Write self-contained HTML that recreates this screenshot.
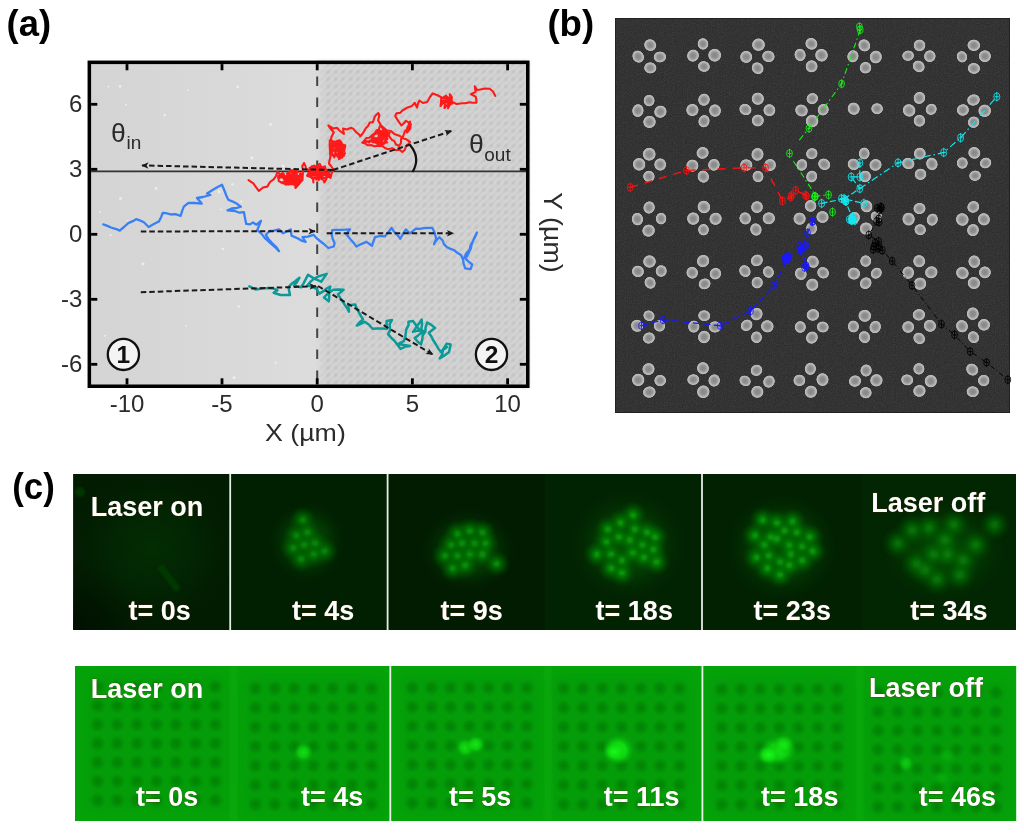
<!DOCTYPE html>
<html lang="en"><head><meta charset="utf-8"><title>Figure: particle trajectories and laser trapping</title>
<style>
html,body{margin:0;padding:0;background:#fff;}
body{width:1024px;height:833px;overflow:hidden;font-family:"Liberation Sans",Arial,sans-serif;}
svg{display:block;}
</style></head><body>
<svg width="1024" height="833" viewBox="0 0 1024 833">
<defs>
<pattern id="hatch" width="7.4" height="7.4" patternUnits="userSpaceOnUse" x="317.2" y="60.6">
<rect width="7.4" height="7.4" fill="#d0d0d0"/>
<path d="M-1,4.7 L4.7,-1 M2.7,8.4 L8.4,2.7" stroke="#dcdcdc" stroke-width="2.3" fill="none"/>
<path d="M-1,8.4 L8.4,-1 M-1,1 L1,-1 M6.4,8.4 L8.4,6.4" stroke="#c9c9c9" stroke-width="2.2" fill="none"/>
<circle cx="3.7" cy="3.7" r="2.1" fill="#bfbfbf"/>
</pattern>
<radialGradient id="hd"><stop offset="0" stop-color="#bcbcbc" stop-opacity="1"/><stop offset="0.55" stop-color="#c0c0c0" stop-opacity="0.8"/><stop offset="1" stop-color="#cccccc" stop-opacity="0"/></radialGradient>
<linearGradient id="leftg" x1="0" x2="1" y1="0" y2="0"><stop offset="0" stop-color="#d4d4d4"/><stop offset="0.52" stop-color="#dcdcdc"/><stop offset="1" stop-color="#dcdcdc"/></linearGradient>
<linearGradient id="fadeL" x1="0" x2="1" y1="0" y2="0"><stop offset="0" stop-color="#dcdcdc" stop-opacity="1"/><stop offset="1" stop-color="#d6d6d6" stop-opacity="0"/></linearGradient>
<pattern id="dotsA" width="4" height="4" patternUnits="userSpaceOnUse"><rect x="0" y="0" width="2" height="2" fill="#ffffff" opacity="0.10"/></pattern>
<radialGradient id="np" cx="50%" cy="50%" r="50%">
<stop offset="0" stop-color="#858585"/><stop offset="0.45" stop-color="#929292"/><stop offset="0.72" stop-color="#b4b4b4"/><stop offset="0.86" stop-color="#bcbcbc"/><stop offset="0.94" stop-color="#8a8a8a"/><stop offset="1" stop-color="#505050" stop-opacity="0"/>
</radialGradient>
<radialGradient id="gp" cx="50%" cy="50%" r="50%">
<stop offset="0" stop-color="#0aa80a" stop-opacity="0.9"/><stop offset="0.5" stop-color="#089808" stop-opacity="0.5"/><stop offset="1" stop-color="#067806" stop-opacity="0"/>
</radialGradient>
<radialGradient id="gbody" cx="50%" cy="50%" r="50%">
<stop offset="0" stop-color="#067c06" stop-opacity="0.85"/><stop offset="0.5" stop-color="#056c05" stop-opacity="0.6"/><stop offset="1" stop-color="#034003" stop-opacity="0"/>
</radialGradient>
<radialGradient id="gglow" cx="50%" cy="50%" r="50%">
<stop offset="0" stop-color="#056005" stop-opacity="0.9"/><stop offset="0.55" stop-color="#044a04" stop-opacity="0.6"/><stop offset="1" stop-color="#022a02" stop-opacity="0"/>
</radialGradient>
<radialGradient id="dk" cx="50%" cy="50%" r="50%">
<stop offset="0" stop-color="#016a04" stop-opacity="0.55"/><stop offset="0.5" stop-color="#027406" stop-opacity="0.36"/><stop offset="1" stop-color="#049a0a" stop-opacity="0"/>
</radialGradient>
<radialGradient id="bs" cx="50%" cy="50%" r="50%">
<stop offset="0" stop-color="#1cfa1c" stop-opacity="1"/><stop offset="0.5" stop-color="#10e410" stop-opacity="0.85"/><stop offset="1" stop-color="#08b00c" stop-opacity="0"/>
</radialGradient>
<radialGradient id="vig" cx="0" cy="1" r="1"><stop offset="0" stop-color="#000a00" stop-opacity="0.7"/><stop offset="1" stop-color="#000a00" stop-opacity="0"/></radialGradient>
<filter id="b07" x="-2%" y="-2%" width="104%" height="104%"><feGaussianBlur stdDeviation="1.0"/></filter>
<filter id="b1" x="-20%" y="-20%" width="140%" height="140%"><feGaussianBlur stdDeviation="0.6"/></filter>
<filter id="b3" x="-20%" y="-20%" width="140%" height="140%"><feGaussianBlur stdDeviation="4"/></filter>
<filter id="b15" x="-20%" y="-20%" width="140%" height="140%"><feGaussianBlur stdDeviation="1.1"/></filter>
<filter id="b2" x="-20%" y="-20%" width="140%" height="140%"><feGaussianBlur stdDeviation="1.2"/></filter>
<filter id="noise" x="0" y="0" width="100%" height="100%">
<feTurbulence type="fractalNoise" baseFrequency="0.9" numOctaves="2" seed="3" result="n"/>
<feColorMatrix type="matrix" values="0 0 0 0 0.5  0 0 0 0 0.5  0 0 0 0 0.5  0.6 0.6 0.6 0 -0.75"/>
</filter>
<marker id="ah" viewBox="0 0 10 10" refX="9" refY="5" markerWidth="8.6" markerHeight="7.2" markerUnits="userSpaceOnUse" orient="auto"><path d="M0,0.5 L10,5 L0,9.5 L2.5,5 z" fill="#1a1a1a"/></marker>
</defs>
<rect x="87.6" y="60.6" width="441.9" height="327.4" fill="url(#leftg)"/>
<rect x="317.2" y="60.6" width="212.3" height="327.4" fill="url(#hatch)" filter="url(#b07)"/>
<rect x="317.2" y="60.6" width="9" height="327.4" fill="url(#fadeL)"/>
<circle cx="164.6" cy="115.1" r="1.3" fill="#f2f2f2" opacity="0.8"/>
<circle cx="110.6" cy="235.2" r="1.1" fill="#f2f2f2" opacity="0.8"/>
<circle cx="107.5" cy="226.3" r="0.8" fill="#f2f2f2" opacity="0.8"/>
<circle cx="188.2" cy="89.8" r="0.9" fill="#f2f2f2" opacity="0.8"/>
<circle cx="186.3" cy="326.0" r="0.9" fill="#f2f2f2" opacity="0.8"/>
<circle cx="143.0" cy="263.8" r="1.6" fill="#f2f2f2" opacity="0.8"/>
<circle cx="219.1" cy="191.8" r="1.6" fill="#f2f2f2" opacity="0.8"/>
<circle cx="105.0" cy="335.8" r="1.0" fill="#f2f2f2" opacity="0.8"/>
<circle cx="126.0" cy="104.8" r="1.0" fill="#f2f2f2" opacity="0.8"/>
<circle cx="270.5" cy="124.4" r="1.3" fill="#f2f2f2" opacity="0.8"/>
<circle cx="232.4" cy="184.2" r="1.2" fill="#f2f2f2" opacity="0.8"/>
<circle cx="108.5" cy="86.6" r="1.0" fill="#f2f2f2" opacity="0.8"/>
<circle cx="241.3" cy="201.4" r="1.1" fill="#f2f2f2" opacity="0.8"/>
<circle cx="220.9" cy="209.4" r="1.0" fill="#f2f2f2" opacity="0.8"/>
<circle cx="265.8" cy="286.1" r="1.0" fill="#f2f2f2" opacity="0.8"/>
<circle cx="218.5" cy="231.9" r="1.5" fill="#f2f2f2" opacity="0.8"/>
<circle cx="251.8" cy="157.8" r="1.6" fill="#f2f2f2" opacity="0.8"/>
<circle cx="120.4" cy="198.5" r="1.4" fill="#f2f2f2" opacity="0.8"/>
<circle cx="127.7" cy="220.6" r="0.8" fill="#f2f2f2" opacity="0.8"/>
<circle cx="238.7" cy="306.5" r="1.3" fill="#f2f2f2" opacity="0.8"/>
<circle cx="283.2" cy="165.9" r="1.4" fill="#f2f2f2" opacity="0.8"/>
<circle cx="222.8" cy="248.9" r="1.2" fill="#f2f2f2" opacity="0.8"/>
<circle cx="275.6" cy="362.7" r="1.2" fill="#f2f2f2" opacity="0.8"/>
<circle cx="237.8" cy="86.9" r="1.4" fill="#f2f2f2" opacity="0.8"/>
<circle cx="234.1" cy="377.8" r="1.5" fill="#f2f2f2" opacity="0.8"/>
<circle cx="156.2" cy="188.4" r="1.3" fill="#f2f2f2" opacity="0.8"/>
<circle cx="99.9" cy="212.0" r="0.9" fill="#f2f2f2" opacity="0.8"/>
<circle cx="120.2" cy="86.4" r="1.4" fill="#f2f2f2" opacity="0.8"/>
<line x1="91.1" y1="171.4" x2="526.0" y2="171.4" stroke="#333" stroke-width="1.6"/>
<line x1="317.2" y1="76.4" x2="317.2" y2="384.5" stroke="#444" stroke-width="2.0" stroke-dasharray="9.6 11.4"/>
<polyline points="248.6,180.2 253.3,183.3 255.8,186.9 256.4,187.7 258.8,191.0 263.0,187.5 267.3,186.6 270.0,182.0 273.6,179.4 276.0,176.0 277.5,171.6 280.5,174.9 283.3,174.6 285.7,177.4 281.2,177.4 277.9,177.5 279.3,178.1 283.2,173.9 283.3,173.6 284.8,177.3 284.5,180.9 285.6,184.7 287.0,184.1 291.6,184.0 295.8,185.0 298.2,182.7 300.6,179.9 297.7,177.6 302.4,180.5 302.7,176.8 300.4,173.2 299.6,175.4 297.3,179.1 294.8,179.2 290.5,179.0 287.7,178.9 292.9,179.6 295.1,175.0 297.9,177.4 299.3,180.2 298.6,178.1 296.2,173.5 294.8,176.6 290.8,177.1 286.7,177.3 284.1,177.7 281.5,177.0 278.4,176.7 282.3,176.9 285.6,177.4 289.1,178.6 293.9,178.1 295.5,176.8 298.6,178.0 295.2,179.7 296.4,174.0 291.7,172.1 289.4,171.5 288.3,177.4 289.0,177.3 292.6,176.2 295.2,173.4 297.9,172.2 295.9,170.5 290.9,170.4 286.8,173.7 291.9,174.3 293.3,177.5 296.1,179.9 294.7,178.2 295.9,178.2 296.1,174.7 294.6,176.2 296.2,178.8 299.3,181.0 297.4,176.0 293.8,180.8 298.1,181.1 300.8,181.5 296.8,182.9 291.9,182.7 288.8,181.0 284.5,176.7 281.5,177.4 282.9,177.5 284.2,179.5 286.2,181.0 289.8,183.4 288.0,181.9 285.8,178.1 288.4,172.8 288.2,175.7 290.1,179.4 286.6,181.7 282.7,183.2 288.4,184.6 288.1,179.8 288.0,180.4 289.5,179.5 285.5,178.2 283.1,172.9 278.3,175.9 278.7,180.8 281.3,182.6 282.4,182.1 284.9,182.8 288.5,182.1 293.1,182.2 294.8,181.4 292.2,184.2 290.3,180.8 287.6,177.8 286.0,176.2 290.6,174.2 292.0,174.5 290.5,179.5 293.1,182.0 296.8,183.4 301.0,181.7 302.3,178.3 301.6,175.4 298.4,178.6 300.0,179.4 298.0,181.5 294.6,184.9 296.0,180.4 291.4,179.0 296.3,180.8 296.9,180.1 295.4,178.3 300.5,179.2 301.5,179.4 297.9,178.3 295.1,176.5 294.1,178.0 297.5,177.6 295.8,174.1 293.5,171.2 293.0,177.0 291.1,180.3 296.2,182.2 294.5,180.1 290.2,176.7 293.7,174.9 296.9,175.0 294.6,178.9 299.4,176.4 297.3,178.8 294.9,181.5 290.6,180.7 286.4,178.5 286.4,179.5 288.3,181.8 291.6,184.0 295.1,184.5 295.5,188.0 299.0,184.0 302.5,179.4 302.6,175.4 302.8,175.2 303.0,170.0 302.2,166.3 304.0,163.0 305.5,166.1 306.0,169.0 308.8,170.0 310.7,171.8 311.0,176.0 313.0,178.5 313.4,182.5 313.3,179.5 315.5,174.9 316.0,172.0 318.5,172.9 322.2,173.9 324.6,173.2 328.5,176.0 331.3,174.7 326.0,175.3 324.1,175.0 319.1,173.0 317.0,173.7 322.0,174.0 322.4,171.2 323.6,168.8 320.8,167.1 322.1,170.3 318.1,169.4 313.5,170.3 311.7,168.6 313.6,171.9 315.1,175.9 316.4,179.2 315.6,176.5 314.0,174.8 311.1,170.4 309.6,167.9 314.4,165.5 311.6,167.6 313.2,169.0 311.0,171.8 310.1,175.0 313.1,175.1 317.5,175.5 320.9,175.1 317.6,178.6 321.1,173.7 317.8,178.6 317.1,177.1 318.6,176.9 317.7,174.8 318.3,170.8 318.6,167.9 315.0,168.6 312.3,172.5 314.5,172.6 316.7,174.9 318.5,180.0 320.7,177.1 322.5,174.6 322.6,171.1 328.1,173.4 325.6,172.9 321.9,171.3 318.8,168.6 315.8,166.7 313.1,169.4 312.0,170.8 308.3,173.4 307.1,175.7 310.7,176.9 311.9,178.2 316.6,177.8 320.7,177.7 316.3,179.6 318.3,177.5 316.9,173.2 316.8,167.9 316.3,166.2 318.8,168.9 322.3,169.3 324.0,171.5 329.1,174.7 330.5,176.5 327.4,176.6 321.7,179.2 318.9,177.1 313.1,177.6 316.5,177.3 320.9,177.2 322.8,176.0 319.6,175.1 316.3,176.0 321.1,178.0 321.9,174.8 322.5,171.1 324.0,168.8 320.5,170.8 318.1,173.3 315.9,175.0 317.6,171.7 317.6,167.9 315.2,171.0 313.3,170.4 310.3,173.5 310.4,170.1 311.7,166.3 315.5,167.2 320.6,166.8 319.2,168.7 320.6,173.7 318.2,174.7 312.9,174.8 312.1,174.4 307.8,175.7 309.3,173.0 312.0,170.9 315.2,170.5 317.1,171.9 319.9,177.4 322.1,178.2 325.0,177.9 329.6,176.2 328.5,170.9 325.5,169.2 325.0,166.4 321.8,167.2 318.3,168.6 315.3,168.8 316.0,172.6 317.4,175.8 316.0,174.8 311.0,175.4 312.8,172.4 314.7,171.4 317.5,165.8 319.7,163.8 321.8,168.1 320.7,169.4 320.8,173.9 322.0,176.0 322.9,178.7 324.4,182.5 326.4,179.0 327.0,176.0 330.6,177.8 332.0,172.0 333.8,170.0 331.0,166.0 329.0,163.8 329.3,161.4 330.4,156.9 330.0,152.0 330.3,149.1 329.7,145.0 329.8,140.3 332.9,142.4 333.3,145.6 336.4,148.0 338.3,150.4 341.8,154.3 343.2,154.8 341.3,150.7 340.2,148.6 336.3,146.0 333.9,144.4 329.6,146.8 335.2,144.6 331.7,146.1 332.8,146.4 332.9,147.6 331.7,150.2 330.4,147.1 334.8,143.6 336.9,141.0 339.6,140.3 334.0,141.9 334.8,146.7 333.9,143.5 337.0,141.2 335.8,144.6 334.4,143.1 337.0,141.1 338.4,145.0 339.0,148.8 338.4,152.3 340.4,153.8 342.9,156.4 345.0,153.1 342.7,155.2 338.4,157.2 342.0,157.7 343.0,154.8 342.0,155.9 339.7,153.2 336.2,149.9 339.4,153.1 344.4,154.3 343.1,151.8 344.7,148.6 345.2,145.3 341.9,146.0 339.7,141.9 343.8,145.5 339.8,142.7 337.2,142.4 340.7,141.3 341.7,142.8 342.3,148.7 342.7,151.0 342.3,156.1 340.0,153.7 338.6,152.2 336.3,149.1 335.4,145.0 330.3,148.2 331.6,148.2 329.7,149.6 332.1,151.7 332.5,155.5 335.6,154.3 339.8,153.5 334.7,156.1 333.4,155.3 334.2,157.5 335.7,152.5 332.7,149.6 337.2,149.1 341.2,148.1 344.3,150.1 339.7,153.4 343.1,155.4 339.1,159.3 339.2,153.8 340.9,155.7 340.5,152.3 338.2,150.5 336.8,148.5 333.4,144.9 333.0,143.8 329.8,148.5 330.9,144.4 334.9,141.6 339.0,141.6 338.0,145.4 334.4,145.7 337.2,144.2 339.8,142.1 342.8,146.7 344.6,147.6 343.1,145.3 342.1,149.1 340.9,144.5 338.8,141.8 333.5,144.3 335.0,146.0 337.9,148.8 341.9,146.7 345.4,145.9 343.1,144.6 342.0,145.1 343.1,148.8 344.4,151.0 339.6,151.6 338.6,149.7 338.2,145.6 342.2,144.5 343.0,148.1 343.2,152.0 341.3,154.8 337.6,156.7 340.6,155.7 344.1,155.6 341.9,153.3 340.7,150.6 337.1,146.8 335.6,145.5 334.1,142.2 331.0,140.0 331.4,136.9 333.8,132.5 330.0,128.0 328.3,125.5 333.0,128.5 336.9,127.8 340.0,131.0 343.9,134.0 343.0,128.6 347.0,129.5 351.0,127.8 353.4,128.9 356.0,132.0 359.5,134.9 360.3,136.4 362.3,134.0 363.6,132.0 365.7,128.2 368.0,126.0 369.8,122.5 372.9,122.1 374.8,116.6 376.0,115.1 378.3,113.0 379.4,115.2 378.1,120.4 380.6,124.7 379.5,127.3 378.6,129.6 375.0,133.0 372.5,134.8 369.3,137.8 366.3,138.0 364.6,140.4 362.3,142.7 366.4,141.7 369.2,141.2 372.0,141.0 372.5,142.2 377.3,142.4 380.4,141.4 384.0,142.9 387.5,138.6 385.3,136.7 383.2,134.0 380.6,132.7 377.3,130.1 376.8,131.1 378.8,129.7 381.5,132.1 375.6,131.9 373.6,135.1 370.8,136.6 374.4,134.3 377.3,133.3 376.4,130.4 375.9,131.9 379.1,133.5 381.1,135.2 385.1,136.1 382.2,137.5 381.9,141.3 379.4,144.7 380.6,143.8 379.3,142.9 378.2,139.0 377.3,140.6 376.1,140.0 378.1,144.3 375.4,142.6 380.1,140.0 376.6,141.1 372.9,141.3 377.2,140.0 379.7,139.4 380.0,143.1 384.4,142.2 387.3,142.4 386.4,142.2 383.4,144.1 379.6,145.1 378.1,144.0 373.4,140.5 371.0,136.8 373.1,137.0 373.1,141.8 373.3,140.8 374.7,137.7 377.2,142.1 376.3,140.2 379.6,136.1 381.8,134.0 378.6,137.2 377.3,139.4 382.3,136.2 382.8,138.4 378.9,137.9 381.1,132.6 382.9,130.0 384.9,133.3 388.3,135.9 389.7,132.6 386.1,136.3 380.6,138.5 383.7,137.3 387.6,135.9 383.8,131.4 382.4,135.3 382.8,136.9 378.5,135.0 379.2,133.7 382.1,131.5 385.6,130.3 388.0,133.6 384.3,135.3 381.3,136.3 378.0,137.4 375.8,139.0 371.6,136.4 375.6,140.1 376.6,143.2 378.6,141.2 383.0,139.4 386.3,139.5 386.6,139.0 384.6,136.9 381.0,134.8 378.3,132.7 382.9,133.7 382.0,139.1 378.5,139.3 376.0,141.4 376.0,141.1 370.1,140.2 369.4,142.5 365.6,140.9 362.3,142.7 365.3,143.5 367.8,145.3 371.1,145.0 374.4,146.4 377.5,145.8 382.6,146.2 385.0,148.0 388.0,149.2 392.2,148.2 395.8,150.2 399.7,149.8 402.2,152.0 404.8,149.8 405.8,146.6 408.4,143.9 410.0,141.9 406.4,139.3 403.4,138.5 400.0,136.0 395.7,134.4 394.2,133.9 391.0,131.0 386.9,130.5 384.0,128.0 380.3,124.7 381.9,127.6 384.4,130.0 385.9,131.6 389.3,136.1 390.0,137.3 392.0,140.0 394.2,140.9 395.8,144.3 399.0,146.0 401.1,142.8 401.0,139.0 402.6,137.4 404.5,132.7 404.9,131.0 407.5,129.1 409.8,124.8 410.0,121.6 408.5,125.4 407.1,128.3 407.0,132.5 409.1,130.1 410.3,128.1 410.8,124.0 406.0,120.8 403.4,123.8 401.4,125.5 399.4,122.6 397.4,119.6 395.2,116.0 396.5,113.2 400.2,112.9 402.2,110.7 405.0,109.0 407.1,107.7 411.8,106.1 414.7,102.8 417.0,107.5 417.9,103.9 419.4,100.5 423.0,103.0 427.2,102.0 430.0,97.0 432.7,93.4 437.0,95.0 441.3,97.3 441.0,102.7 440.5,106.0 442.4,103.6 443.4,100.7 446.5,102.2 447.7,99.9 451.6,99.0 449.0,98.3 449.8,99.8 450.4,97.6 448.7,102.3 449.7,101.2 445.9,97.9 443.8,97.9 442.4,98.1 446.0,95.6 447.5,98.2 447.9,97.2 447.1,101.5 444.1,102.1 446.3,102.1 444.4,103.3 442.6,101.2 443.9,100.3 446.1,101.2 446.5,96.3 446.8,99.5 448.4,103.1 451.1,103.4 446.6,105.5 444.4,108.0 445.0,104.7 444.7,106.2 448.1,105.8 448.4,107.0 447.6,105.2 448.1,101.6 451.8,101.2 451.9,103.7 450.5,103.7 448.0,108.2 449.4,103.3 451.0,99.3 450.5,98.4 450.6,98.7 449.8,94.2 451.8,97.1 451.7,101.5 453.8,102.8 456.7,104.0 462.2,103.3 465.0,103.2 469.9,102.2 472.2,102.7 476.4,102.8 476.3,99.6 475.6,96.6 471.0,94.2 475.6,91.9 474.8,86.4 477.0,90.0 480.3,89.5 485.0,88.5 489.7,88.8 493.0,91.5 495.2,95.8" fill="none" stroke="#ff1a1a" stroke-width="2.1" stroke-linejoin="round" stroke-linecap="round" />
<polyline points="103.3,224.4 107.4,225.9 111.0,227.5 117.0,229.3 119.7,230.6 124.0,227.0 128.3,223.1 132.3,221.4 136.1,219.2 139.8,220.4 143.9,222.3 148.6,227.0 153.9,224.1 158.8,221.6 161.1,217.2 162.7,213.0 166.0,213.1 171.0,214.5 175.4,214.2 180.6,215.8 182.1,211.1 183.8,206.7 188.4,202.8 195.0,203.0 201.7,203.6 197.0,198.0 203.0,197.0 210.3,195.0 207.0,193.5 213.4,189.5 218.1,186.7 222.0,184.8 225.0,192.0 226.5,196.1 228.3,199.7 232.8,201.6 237.4,204.1 240.8,206.7 236.9,207.8 231.7,208.5 227.5,210.3 235.0,211.0 239.4,212.7 243.9,212.2 245.0,218.0 246.2,223.9 250.0,224.4 253.0,222.5 256.4,224.7 261.0,220.8 258.8,226.2 257.2,230.2 261.4,233.6 264.9,238.1 268.0,241.0 271.5,244.2 275.9,248.0 279.0,251.2 276.5,247.3 272.0,243.0 268.4,238.9 265.8,234.8 269.7,231.0 273.8,230.6 279.0,229.4 283.0,233.3 287.2,231.2 290.8,229.4 291.5,235.6 298.0,238.5 301.4,240.6 305.6,241.9 302.5,237.2 307.8,236.6 313.4,234.8 316.2,237.8 320.0,241.0 323.9,244.0 328.3,248.0 333.8,246.5 334.6,243.2 332.7,238.7 331.7,234.9 332.2,230.2 337.1,229.8 341.0,229.8 345.3,229.7 350.0,229.4 346.2,234.0 351.0,240.0 353.9,243.1 356.4,246.6 361.1,244.1 366.5,241.9 372.0,245.8 373.3,241.9 375.0,237.2 380.0,236.0 384.7,236.4 388.2,232.2 391.7,227.8 393.8,231.3 397.3,234.9 400.3,238.8 403.0,233.9 405.8,229.4 409.7,233.3 416.0,228.6 419.3,228.8 424.0,228.2 428.6,227.8 432.3,227.8 434.6,232.8 436.2,238.8 434.0,244.2 436.1,240.6 439.4,237.2 442.7,240.5 443.9,244.1 447.2,247.3 450.5,248.9 454.4,250.4 456.9,252.5 461.2,255.2 463.1,259.7 463.6,263.7 465.2,268.4 470.6,269.2 472.2,264.5 468.6,261.6 464.4,257.5 466.2,253.5 469.7,249.5 470.5,245.2 472.8,241.2 475.0,236.5 476.9,232.5 475.2,236.7 473.2,240.6 471.4,245.2 470.9,248.2 468.8,252.8 466.7,256.7" fill="none" stroke="#3a80f5" stroke-width="2.3" stroke-linejoin="round" stroke-linecap="round" />
<polyline points="249.4,286.4 255.6,289.5 262.0,288.5 268.0,288.0 273.8,288.6 277.5,290.3 273.6,292.7 280.6,295.0 285.5,294.9 290.0,295.0 288.4,287.2 291.6,283.8 295.5,280.9 299.4,277.8 296.9,282.2 294.0,285.6 301.0,287.2 303.4,283.6 305.9,278.9 308.0,274.7 314.2,278.6 318.2,276.5 321.7,275.4 326.7,273.9 323.9,277.9 321.2,281.7 314.2,278.6 310.8,281.4 307.2,285.6 311.5,286.6 316.5,288.8 319.4,293.6 323.5,291.2 326.7,288.5 330.3,286.6 329.1,291.2 329.2,296.7 328.8,301.4 324.0,297.5 326.3,295.0 329.8,292.0 333.4,289.7 338.3,289.5 343.6,289.7 338.0,294.4 340.4,298.2 342.5,301.0 344.8,304.9 347.2,308.3 349.0,311.6 348.3,305.3 355.3,304.5 356.4,307.8 358.9,312.4 361.0,316.1 363.0,319.4 360.1,321.9 356.9,325.6 360.8,323.9 364.7,321.7 368.8,324.5 372.5,328.8 377.4,328.4 380.8,328.4 386.6,328.8 386.6,321.0 392.0,320.0 389.7,324.1 390.0,330.6 388.0,334.2 391.6,338.1 395.2,341.7 396.9,344.1 400.6,349.0 405.7,346.4 410.0,346.0 404.4,345.1 401.7,344.5 397.5,344.4 403.8,341.2 405.2,337.3 405.7,333.6 406.2,329.6 408.6,325.1 408.4,321.7 413.0,321.0 416.2,325.4 419.0,329.2 422.5,333.4 421.4,328.5 422.0,324.6 421.7,319.4 419.2,323.3 415.3,328.6 413.0,331.9 417.6,330.6 421.2,330.8 425.6,331.0 421.6,332.5 418.1,335.4 414.7,338.0 417.7,341.7 421.0,344.4 422.3,339.4 422.6,335.4 425.3,331.7 425.6,327.4 427.2,322.5 431.3,324.9 435.0,328.0 428.8,332.7 431.4,336.5 433.2,340.3 436.3,345.0 438.2,348.4 441.2,352.2 444.0,347.9 446.7,343.6 450.6,344.4 449.0,352.2 443.7,355.9 439.7,358.4 442.0,355.0 443.0,350.0 447.0,347.0" fill="none" stroke="#0b9a98" stroke-width="2.5" stroke-linejoin="round" stroke-linecap="round" />
<line x1="333" y1="170" x2="142" y2="165.4" stroke="#1a1a1a" stroke-width="2.0" stroke-dasharray="5.5 3" marker-end="url(#ah)"/>
<line x1="333" y1="170" x2="451.4" y2="131" stroke="#1a1a1a" stroke-width="2.0" stroke-dasharray="5.5 3" marker-end="url(#ah)"/>
<line x1="140.8" y1="231.4" x2="315" y2="231.3" stroke="#1a1a1a" stroke-width="2.0" stroke-dasharray="5.5 3" marker-end="url(#ah)"/>
<line x1="326.7" y1="233.3" x2="453.4" y2="233.3" stroke="#1a1a1a" stroke-width="2.0" stroke-dasharray="5.5 3" marker-end="url(#ah)"/>
<line x1="140.8" y1="292.2" x2="316" y2="286.3" stroke="#1a1a1a" stroke-width="2.0" stroke-dasharray="5.5 3" marker-end="url(#ah)"/>
<line x1="318" y1="286" x2="432.7" y2="354.5" stroke="#1a1a1a" stroke-width="2.0" stroke-dasharray="5.5 3" marker-end="url(#ah)"/>
<path d="M410,145 Q421,158 412.5,172" fill="none" stroke="#111" stroke-width="2.2"/>
<rect x="89.35" y="62.35" width="438.4" height="323.9" fill="none" stroke="#000" stroke-width="3.5"/>
<line x1="127" y1="64.1" x2="127" y2="70.3" stroke="#000" stroke-width="2.8"/>
<line x1="127" y1="384.5" x2="127" y2="378.3" stroke="#000" stroke-width="2.8"/>
<line x1="222" y1="64.1" x2="222" y2="70.3" stroke="#000" stroke-width="2.8"/>
<line x1="222" y1="384.5" x2="222" y2="378.3" stroke="#000" stroke-width="2.8"/>
<line x1="317.2" y1="64.1" x2="317.2" y2="70.3" stroke="#000" stroke-width="2.8"/>
<line x1="317.2" y1="384.5" x2="317.2" y2="378.3" stroke="#000" stroke-width="2.8"/>
<line x1="412.4" y1="64.1" x2="412.4" y2="70.3" stroke="#000" stroke-width="2.8"/>
<line x1="412.4" y1="384.5" x2="412.4" y2="378.3" stroke="#000" stroke-width="2.8"/>
<line x1="507.6" y1="64.1" x2="507.6" y2="70.3" stroke="#000" stroke-width="2.8"/>
<line x1="507.6" y1="384.5" x2="507.6" y2="378.3" stroke="#000" stroke-width="2.8"/>
<line x1="91.1" y1="104.3" x2="97.3" y2="104.3" stroke="#000" stroke-width="2.8"/>
<line x1="526.0" y1="104.3" x2="519.8" y2="104.3" stroke="#000" stroke-width="2.8"/>
<line x1="91.1" y1="169.3" x2="97.3" y2="169.3" stroke="#000" stroke-width="2.8"/>
<line x1="526.0" y1="169.3" x2="519.8" y2="169.3" stroke="#000" stroke-width="2.8"/>
<line x1="91.1" y1="234.3" x2="97.3" y2="234.3" stroke="#000" stroke-width="2.8"/>
<line x1="526.0" y1="234.3" x2="519.8" y2="234.3" stroke="#000" stroke-width="2.8"/>
<line x1="91.1" y1="299.3" x2="97.3" y2="299.3" stroke="#000" stroke-width="2.8"/>
<line x1="526.0" y1="299.3" x2="519.8" y2="299.3" stroke="#000" stroke-width="2.8"/>
<line x1="91.1" y1="364.3" x2="97.3" y2="364.3" stroke="#000" stroke-width="2.8"/>
<line x1="526.0" y1="364.3" x2="519.8" y2="364.3" stroke="#000" stroke-width="2.8"/>
<text x="82.3" y="112.3" font-family="'Liberation Sans', Arial, sans-serif" font-size="24" fill="#2b2b2b" text-anchor="end">6</text>
<text x="82.3" y="177.3" font-family="'Liberation Sans', Arial, sans-serif" font-size="24" fill="#2b2b2b" text-anchor="end">3</text>
<text x="82.3" y="242.3" font-family="'Liberation Sans', Arial, sans-serif" font-size="24" fill="#2b2b2b" text-anchor="end">0</text>
<text x="82.3" y="307.3" font-family="'Liberation Sans', Arial, sans-serif" font-size="24" fill="#2b2b2b" text-anchor="end">-3</text>
<text x="82.3" y="372.3" font-family="'Liberation Sans', Arial, sans-serif" font-size="24" fill="#2b2b2b" text-anchor="end">-6</text>
<text x="127" y="412.3" font-family="'Liberation Sans', Arial, sans-serif" font-size="24" fill="#2b2b2b" text-anchor="middle">-10</text>
<text x="222" y="412.3" font-family="'Liberation Sans', Arial, sans-serif" font-size="24" fill="#2b2b2b" text-anchor="middle">-5</text>
<text x="317.2" y="412.3" font-family="'Liberation Sans', Arial, sans-serif" font-size="24" fill="#2b2b2b" text-anchor="middle">0</text>
<text x="412.4" y="412.3" font-family="'Liberation Sans', Arial, sans-serif" font-size="24" fill="#2b2b2b" text-anchor="middle">5</text>
<text x="507.6" y="412.3" font-family="'Liberation Sans', Arial, sans-serif" font-size="24" fill="#2b2b2b" text-anchor="middle">10</text>
<text x="265.0" y="441" font-family="'Liberation Sans', Arial, sans-serif" font-size="24.5" fill="#2b2b2b" textLength="80.8" lengthAdjust="spacingAndGlyphs">X (µm)</text>
<text transform="translate(544,192.2) rotate(90)" font-family="'Liberation Sans', Arial, sans-serif" font-size="25" fill="#2b2b2b" textLength="80.5" lengthAdjust="spacingAndGlyphs">Y (µm)</text>
<text x="111" y="142.2" font-family="'Liberation Sans', Arial, sans-serif" font-size="26.5" fill="#2b2b2b">θ<tspan font-size="19" dy="6.8" dx="0.8">in</tspan></text>
<text x="469" y="153.4" font-family="'Liberation Sans', Arial, sans-serif" font-size="26.5" fill="#2b2b2b">θ<tspan font-size="19" dy="7.2" dx="0.5">out</tspan></text>
<circle cx="123.4" cy="354.4" r="15.6" fill="#f4f4f4" stroke="#111" stroke-width="2.3"/>
<text x="123.4" y="363.2" font-family="'Liberation Sans', Arial, sans-serif" font-size="24.5" font-weight="bold" fill="#111" text-anchor="middle">1</text>
<circle cx="491.5" cy="354.4" r="15.6" fill="#f4f4f4" stroke="#111" stroke-width="2.3"/>
<text x="491.5" y="363.2" font-family="'Liberation Sans', Arial, sans-serif" font-size="24.5" font-weight="bold" fill="#111" text-anchor="middle">2</text>
<text x="6.6" y="35.9" font-family="'Liberation Sans', Arial, sans-serif" font-size="37.5" font-weight="bold" fill="#000" textLength="44.5" lengthAdjust="spacingAndGlyphs">(a)</text>
<text x="547.4" y="36" font-family="'Liberation Sans', Arial, sans-serif" font-size="37.5" font-weight="bold" fill="#000" textLength="46.7" lengthAdjust="spacingAndGlyphs">(b)</text>
<text x="12.3" y="499.1" font-family="'Liberation Sans', Arial, sans-serif" font-size="37.5" font-weight="bold" fill="#000" textLength="42.5" lengthAdjust="spacingAndGlyphs">(c)</text>
<rect x="615" y="18" width="395" height="395" fill="#2f2f2f"/>
<rect x="615" y="18" width="395" height="395" filter="url(#noise)" opacity="0.22"/>
<rect x="615.5" y="18.5" width="394" height="394" fill="none" stroke="#222" stroke-width="1"/>
<g filter="url(#b1)">
<ellipse cx="650.2" cy="45.1" rx="6.5" ry="6.1" transform="rotate(33 650.2 45.1)" fill="url(#np)"/>
<ellipse cx="638.2" cy="56.6" rx="6.7" ry="5.9" transform="rotate(55 638.2 56.6)" fill="url(#np)"/>
<ellipse cx="659.9" cy="57.0" rx="6.6" ry="5.8" transform="rotate(177 659.9 57.0)" fill="url(#np)"/>
<ellipse cx="650.3" cy="67.9" rx="6.5" ry="5.9" transform="rotate(3 650.3 67.9)" fill="url(#np)"/>
<ellipse cx="703.0" cy="43.9" rx="6.1" ry="5.7" transform="rotate(79 703.0 43.9)" fill="url(#np)"/>
<ellipse cx="693.0" cy="55.6" rx="6.5" ry="6.2" transform="rotate(119 693.0 55.6)" fill="url(#np)"/>
<ellipse cx="714.7" cy="55.2" rx="6.8" ry="6.8" transform="rotate(151 714.7 55.2)" fill="url(#np)"/>
<ellipse cx="703.9" cy="66.5" rx="6.3" ry="5.7" transform="rotate(13 703.9 66.5)" fill="url(#np)"/>
<ellipse cx="758.5" cy="44.7" rx="6.8" ry="6.6" transform="rotate(0 758.5 44.7)" fill="url(#np)"/>
<ellipse cx="746.2" cy="56.9" rx="6.4" ry="6.4" transform="rotate(72 746.2 56.9)" fill="url(#np)"/>
<ellipse cx="768.4" cy="56.4" rx="6.6" ry="6.1" transform="rotate(16 768.4 56.4)" fill="url(#np)"/>
<ellipse cx="757.6" cy="68.2" rx="6.6" ry="5.9" transform="rotate(44 757.6 68.2)" fill="url(#np)"/>
<ellipse cx="811.4" cy="43.8" rx="6.5" ry="6.1" transform="rotate(34 811.4 43.8)" fill="url(#np)"/>
<ellipse cx="800.1" cy="54.9" rx="6.6" ry="5.9" transform="rotate(76 800.1 54.9)" fill="url(#np)"/>
<ellipse cx="821.5" cy="55.2" rx="6.8" ry="6.6" transform="rotate(55 821.5 55.2)" fill="url(#np)"/>
<ellipse cx="811.6" cy="66.3" rx="6.4" ry="6.3" transform="rotate(116 811.6 66.3)" fill="url(#np)"/>
<ellipse cx="864.3" cy="45.4" rx="6.6" ry="6.1" transform="rotate(53 864.3 45.4)" fill="url(#np)"/>
<ellipse cx="852.9" cy="56.3" rx="6.5" ry="5.9" transform="rotate(108 852.9 56.3)" fill="url(#np)"/>
<ellipse cx="875.8" cy="57.0" rx="6.8" ry="6.4" transform="rotate(103 875.8 57.0)" fill="url(#np)"/>
<ellipse cx="865.5" cy="67.7" rx="6.2" ry="6.1" transform="rotate(147 865.5 67.7)" fill="url(#np)"/>
<ellipse cx="919.5" cy="45.4" rx="6.2" ry="6.2" transform="rotate(159 919.5 45.4)" fill="url(#np)"/>
<ellipse cx="908.1" cy="55.7" rx="6.2" ry="5.5" transform="rotate(173 908.1 55.7)" fill="url(#np)"/>
<ellipse cx="929.8" cy="56.2" rx="6.3" ry="6.1" transform="rotate(107 929.8 56.2)" fill="url(#np)"/>
<ellipse cx="918.7" cy="66.4" rx="6.6" ry="5.9" transform="rotate(41 918.7 66.4)" fill="url(#np)"/>
<ellipse cx="973.8" cy="45.3" rx="6.7" ry="6.1" transform="rotate(3 973.8 45.3)" fill="url(#np)"/>
<ellipse cx="962.0" cy="56.8" rx="6.1" ry="5.5" transform="rotate(66 962.0 56.8)" fill="url(#np)"/>
<ellipse cx="984.9" cy="56.2" rx="6.4" ry="6.3" transform="rotate(176 984.9 56.2)" fill="url(#np)"/>
<ellipse cx="973.9" cy="68.4" rx="6.5" ry="5.8" transform="rotate(6 973.9 68.4)" fill="url(#np)"/>
<ellipse cx="649.1" cy="100.6" rx="6.1" ry="5.8" transform="rotate(87 649.1 100.6)" fill="url(#np)"/>
<ellipse cx="637.9" cy="110.6" rx="6.8" ry="6.0" transform="rotate(98 637.9 110.6)" fill="url(#np)"/>
<ellipse cx="660.4" cy="111.7" rx="6.6" ry="6.4" transform="rotate(143 660.4 111.7)" fill="url(#np)"/>
<ellipse cx="649.5" cy="121.9" rx="6.6" ry="6.5" transform="rotate(157 649.5 121.9)" fill="url(#np)"/>
<ellipse cx="704.0" cy="99.7" rx="6.5" ry="6.1" transform="rotate(105 704.0 99.7)" fill="url(#np)"/>
<ellipse cx="692.4" cy="110.0" rx="6.5" ry="6.5" transform="rotate(158 692.4 110.0)" fill="url(#np)"/>
<ellipse cx="715.0" cy="110.6" rx="6.6" ry="6.3" transform="rotate(79 715.0 110.6)" fill="url(#np)"/>
<ellipse cx="704.0" cy="121.2" rx="6.6" ry="5.9" transform="rotate(108 704.0 121.2)" fill="url(#np)"/>
<ellipse cx="757.8" cy="98.7" rx="6.5" ry="6.5" transform="rotate(46 757.8 98.7)" fill="url(#np)"/>
<ellipse cx="745.4" cy="109.5" rx="6.6" ry="5.9" transform="rotate(31 745.4 109.5)" fill="url(#np)"/>
<ellipse cx="769.4" cy="110.2" rx="6.4" ry="6.3" transform="rotate(59 769.4 110.2)" fill="url(#np)"/>
<ellipse cx="757.8" cy="120.5" rx="6.4" ry="6.3" transform="rotate(165 757.8 120.5)" fill="url(#np)"/>
<ellipse cx="812.3" cy="98.6" rx="6.2" ry="5.8" transform="rotate(151 812.3 98.6)" fill="url(#np)"/>
<ellipse cx="801.5" cy="110.5" rx="6.8" ry="6.2" transform="rotate(30 801.5 110.5)" fill="url(#np)"/>
<ellipse cx="823.2" cy="109.7" rx="6.2" ry="5.8" transform="rotate(113 823.2 109.7)" fill="url(#np)"/>
<ellipse cx="812.1" cy="121.0" rx="6.7" ry="6.7" transform="rotate(81 812.1 121.0)" fill="url(#np)"/>
<ellipse cx="853.7" cy="108.7" rx="6.6" ry="6.3" transform="rotate(56 853.7 108.7)" fill="url(#np)"/>
<ellipse cx="877.1" cy="108.7" rx="6.2" ry="5.8" transform="rotate(4 877.1 108.7)" fill="url(#np)"/>
<ellipse cx="919.4" cy="97.9" rx="6.5" ry="6.1" transform="rotate(113 919.4 97.9)" fill="url(#np)"/>
<ellipse cx="909.1" cy="110.4" rx="6.8" ry="6.5" transform="rotate(36 909.1 110.4)" fill="url(#np)"/>
<ellipse cx="931.2" cy="109.3" rx="6.1" ry="5.7" transform="rotate(129 931.2 109.3)" fill="url(#np)"/>
<ellipse cx="919.4" cy="120.7" rx="6.3" ry="6.1" transform="rotate(94 919.4 120.7)" fill="url(#np)"/>
<ellipse cx="973.5" cy="100.0" rx="6.7" ry="6.0" transform="rotate(168 973.5 100.0)" fill="url(#np)"/>
<ellipse cx="962.9" cy="110.0" rx="6.4" ry="6.1" transform="rotate(164 962.9 110.0)" fill="url(#np)"/>
<ellipse cx="984.7" cy="110.8" rx="6.7" ry="6.6" transform="rotate(170 984.7 110.8)" fill="url(#np)"/>
<ellipse cx="973.6" cy="122.2" rx="6.2" ry="6.0" transform="rotate(147 973.6 122.2)" fill="url(#np)"/>
<ellipse cx="649.2" cy="154.2" rx="6.8" ry="6.8" transform="rotate(97 649.2 154.2)" fill="url(#np)"/>
<ellipse cx="639.1" cy="164.3" rx="6.7" ry="6.6" transform="rotate(63 639.1 164.3)" fill="url(#np)"/>
<ellipse cx="660.2" cy="164.5" rx="6.5" ry="6.3" transform="rotate(88 660.2 164.5)" fill="url(#np)"/>
<ellipse cx="648.9" cy="176.4" rx="6.1" ry="6.0" transform="rotate(31 648.9 176.4)" fill="url(#np)"/>
<ellipse cx="702.6" cy="152.9" rx="6.5" ry="6.2" transform="rotate(151 702.6 152.9)" fill="url(#np)"/>
<ellipse cx="692.4" cy="165.6" rx="6.4" ry="6.4" transform="rotate(15 692.4 165.6)" fill="url(#np)"/>
<ellipse cx="713.9" cy="164.8" rx="6.3" ry="6.1" transform="rotate(115 713.9 164.8)" fill="url(#np)"/>
<ellipse cx="703.3" cy="176.6" rx="6.5" ry="6.0" transform="rotate(69 703.3 176.6)" fill="url(#np)"/>
<ellipse cx="757.5" cy="154.4" rx="6.8" ry="6.4" transform="rotate(103 757.5 154.4)" fill="url(#np)"/>
<ellipse cx="746.3" cy="165.0" rx="6.5" ry="6.1" transform="rotate(5 746.3 165.0)" fill="url(#np)"/>
<ellipse cx="770.1" cy="165.0" rx="6.4" ry="6.2" transform="rotate(101 770.1 165.0)" fill="url(#np)"/>
<ellipse cx="758.0" cy="176.5" rx="6.1" ry="5.8" transform="rotate(74 758.0 176.5)" fill="url(#np)"/>
<ellipse cx="811.8" cy="153.7" rx="6.2" ry="5.8" transform="rotate(147 811.8 153.7)" fill="url(#np)"/>
<ellipse cx="801.8" cy="164.9" rx="6.3" ry="5.7" transform="rotate(111 801.8 164.9)" fill="url(#np)"/>
<ellipse cx="824.2" cy="164.3" rx="6.6" ry="5.9" transform="rotate(35 824.2 164.3)" fill="url(#np)"/>
<ellipse cx="811.7" cy="176.5" rx="6.3" ry="5.8" transform="rotate(112 811.7 176.5)" fill="url(#np)"/>
<ellipse cx="864.2" cy="153.5" rx="6.3" ry="5.7" transform="rotate(95 864.2 153.5)" fill="url(#np)"/>
<ellipse cx="853.6" cy="164.4" rx="6.4" ry="6.0" transform="rotate(29 853.6 164.4)" fill="url(#np)"/>
<ellipse cx="875.5" cy="164.9" rx="6.5" ry="6.2" transform="rotate(153 875.5 164.9)" fill="url(#np)"/>
<ellipse cx="865.1" cy="176.5" rx="6.3" ry="6.1" transform="rotate(146 865.1 176.5)" fill="url(#np)"/>
<ellipse cx="919.8" cy="153.6" rx="6.3" ry="6.3" transform="rotate(160 919.8 153.6)" fill="url(#np)"/>
<ellipse cx="908.3" cy="163.5" rx="6.6" ry="6.0" transform="rotate(17 908.3 163.5)" fill="url(#np)"/>
<ellipse cx="931.9" cy="163.9" rx="6.7" ry="6.0" transform="rotate(73 931.9 163.9)" fill="url(#np)"/>
<ellipse cx="920.5" cy="174.3" rx="6.2" ry="6.0" transform="rotate(164 920.5 174.3)" fill="url(#np)"/>
<ellipse cx="974.3" cy="152.9" rx="6.5" ry="6.2" transform="rotate(34 974.3 152.9)" fill="url(#np)"/>
<ellipse cx="962.3" cy="163.0" rx="6.1" ry="5.8" transform="rotate(93 962.3 163.0)" fill="url(#np)"/>
<ellipse cx="985.6" cy="163.0" rx="6.2" ry="5.6" transform="rotate(151 985.6 163.0)" fill="url(#np)"/>
<ellipse cx="975.1" cy="175.7" rx="6.2" ry="5.5" transform="rotate(171 975.1 175.7)" fill="url(#np)"/>
<ellipse cx="649.1" cy="207.5" rx="6.5" ry="6.0" transform="rotate(108 649.1 207.5)" fill="url(#np)"/>
<ellipse cx="637.4" cy="219.1" rx="6.7" ry="6.0" transform="rotate(82 637.4 219.1)" fill="url(#np)"/>
<ellipse cx="661.1" cy="218.6" rx="6.2" ry="5.6" transform="rotate(92 661.1 218.6)" fill="url(#np)"/>
<ellipse cx="648.6" cy="230.6" rx="6.7" ry="6.4" transform="rotate(155 648.6 230.6)" fill="url(#np)"/>
<ellipse cx="703.9" cy="207.0" rx="6.8" ry="6.6" transform="rotate(46 703.9 207.0)" fill="url(#np)"/>
<ellipse cx="693.2" cy="218.6" rx="6.6" ry="6.5" transform="rotate(73 693.2 218.6)" fill="url(#np)"/>
<ellipse cx="715.6" cy="218.8" rx="6.6" ry="6.4" transform="rotate(138 715.6 218.8)" fill="url(#np)"/>
<ellipse cx="703.5" cy="229.7" rx="6.1" ry="5.7" transform="rotate(84 703.5 229.7)" fill="url(#np)"/>
<ellipse cx="757.0" cy="207.1" rx="6.3" ry="6.2" transform="rotate(120 757.0 207.1)" fill="url(#np)"/>
<ellipse cx="745.2" cy="218.4" rx="6.5" ry="6.1" transform="rotate(70 745.2 218.4)" fill="url(#np)"/>
<ellipse cx="768.8" cy="218.3" rx="6.6" ry="6.4" transform="rotate(176 768.8 218.3)" fill="url(#np)"/>
<ellipse cx="755.9" cy="229.5" rx="6.6" ry="6.0" transform="rotate(72 755.9 229.5)" fill="url(#np)"/>
<ellipse cx="810.6" cy="205.9" rx="6.3" ry="6.2" transform="rotate(99 810.6 205.9)" fill="url(#np)"/>
<ellipse cx="799.6" cy="218.7" rx="6.5" ry="6.5" transform="rotate(115 799.6 218.7)" fill="url(#np)"/>
<ellipse cx="822.5" cy="217.0" rx="6.5" ry="6.3" transform="rotate(8 822.5 217.0)" fill="url(#np)"/>
<ellipse cx="811.6" cy="228.4" rx="6.4" ry="5.8" transform="rotate(89 811.6 228.4)" fill="url(#np)"/>
<ellipse cx="866.5" cy="206.3" rx="6.5" ry="6.2" transform="rotate(66 866.5 206.3)" fill="url(#np)"/>
<ellipse cx="854.1" cy="217.9" rx="6.5" ry="5.9" transform="rotate(129 854.1 217.9)" fill="url(#np)"/>
<ellipse cx="876.5" cy="216.7" rx="6.3" ry="5.6" transform="rotate(28 876.5 216.7)" fill="url(#np)"/>
<ellipse cx="866.1" cy="228.6" rx="6.7" ry="6.5" transform="rotate(9 866.1 228.6)" fill="url(#np)"/>
<ellipse cx="919.5" cy="208.5" rx="6.4" ry="6.0" transform="rotate(175 919.5 208.5)" fill="url(#np)"/>
<ellipse cx="908.6" cy="219.1" rx="6.8" ry="6.5" transform="rotate(84 908.6 219.1)" fill="url(#np)"/>
<ellipse cx="932.3" cy="219.6" rx="6.5" ry="5.8" transform="rotate(112 932.3 219.6)" fill="url(#np)"/>
<ellipse cx="920.2" cy="229.7" rx="6.1" ry="5.8" transform="rotate(22 920.2 229.7)" fill="url(#np)"/>
<ellipse cx="973.3" cy="206.9" rx="6.5" ry="6.1" transform="rotate(140 973.3 206.9)" fill="url(#np)"/>
<ellipse cx="962.3" cy="219.5" rx="6.8" ry="6.6" transform="rotate(43 962.3 219.5)" fill="url(#np)"/>
<ellipse cx="983.9" cy="219.3" rx="6.6" ry="6.3" transform="rotate(65 983.9 219.3)" fill="url(#np)"/>
<ellipse cx="973.0" cy="230.1" rx="6.5" ry="6.2" transform="rotate(114 973.0 230.1)" fill="url(#np)"/>
<ellipse cx="649.5" cy="261.5" rx="6.7" ry="6.6" transform="rotate(7 649.5 261.5)" fill="url(#np)"/>
<ellipse cx="637.9" cy="271.4" rx="6.4" ry="6.1" transform="rotate(18 637.9 271.4)" fill="url(#np)"/>
<ellipse cx="661.2" cy="271.0" rx="6.2" ry="5.9" transform="rotate(99 661.2 271.0)" fill="url(#np)"/>
<ellipse cx="650.1" cy="282.8" rx="6.4" ry="5.8" transform="rotate(62 650.1 282.8)" fill="url(#np)"/>
<ellipse cx="703.1" cy="261.0" rx="6.7" ry="6.4" transform="rotate(138 703.1 261.0)" fill="url(#np)"/>
<ellipse cx="692.2" cy="272.7" rx="6.3" ry="6.1" transform="rotate(66 692.2 272.7)" fill="url(#np)"/>
<ellipse cx="715.4" cy="273.7" rx="6.3" ry="6.0" transform="rotate(134 715.4 273.7)" fill="url(#np)"/>
<ellipse cx="704.6" cy="283.9" rx="6.4" ry="5.7" transform="rotate(158 704.6 283.9)" fill="url(#np)"/>
<ellipse cx="756.9" cy="260.4" rx="6.6" ry="6.0" transform="rotate(140 756.9 260.4)" fill="url(#np)"/>
<ellipse cx="744.9" cy="271.1" rx="6.6" ry="5.8" transform="rotate(55 744.9 271.1)" fill="url(#np)"/>
<ellipse cx="768.4" cy="272.0" rx="6.3" ry="5.7" transform="rotate(64 768.4 272.0)" fill="url(#np)"/>
<ellipse cx="757.2" cy="282.6" rx="6.2" ry="6.0" transform="rotate(102 757.2 282.6)" fill="url(#np)"/>
<ellipse cx="812.9" cy="261.7" rx="6.7" ry="6.1" transform="rotate(57 812.9 261.7)" fill="url(#np)"/>
<ellipse cx="800.8" cy="273.8" rx="6.7" ry="6.1" transform="rotate(65 800.8 273.8)" fill="url(#np)"/>
<ellipse cx="823.1" cy="272.8" rx="6.4" ry="5.9" transform="rotate(35 823.1 272.8)" fill="url(#np)"/>
<ellipse cx="812.3" cy="284.7" rx="6.5" ry="6.4" transform="rotate(101 812.3 284.7)" fill="url(#np)"/>
<ellipse cx="865.7" cy="261.1" rx="6.1" ry="5.8" transform="rotate(98 865.7 261.1)" fill="url(#np)"/>
<ellipse cx="853.9" cy="273.6" rx="6.6" ry="6.4" transform="rotate(12 853.9 273.6)" fill="url(#np)"/>
<ellipse cx="876.3" cy="273.2" rx="6.2" ry="5.5" transform="rotate(133 876.3 273.2)" fill="url(#np)"/>
<ellipse cx="865.7" cy="283.2" rx="6.5" ry="5.9" transform="rotate(134 865.7 283.2)" fill="url(#np)"/>
<ellipse cx="919.2" cy="261.2" rx="6.5" ry="6.3" transform="rotate(71 919.2 261.2)" fill="url(#np)"/>
<ellipse cx="908.2" cy="272.7" rx="6.6" ry="6.2" transform="rotate(97 908.2 272.7)" fill="url(#np)"/>
<ellipse cx="931.3" cy="272.3" rx="6.7" ry="6.3" transform="rotate(149 931.3 272.3)" fill="url(#np)"/>
<ellipse cx="920.0" cy="283.7" rx="6.7" ry="6.5" transform="rotate(160 920.0 283.7)" fill="url(#np)"/>
<ellipse cx="974.3" cy="261.7" rx="6.7" ry="6.2" transform="rotate(76 974.3 261.7)" fill="url(#np)"/>
<ellipse cx="962.4" cy="273.0" rx="6.8" ry="6.3" transform="rotate(30 962.4 273.0)" fill="url(#np)"/>
<ellipse cx="984.9" cy="272.4" rx="6.3" ry="6.3" transform="rotate(11 984.9 272.4)" fill="url(#np)"/>
<ellipse cx="973.9" cy="283.0" rx="6.6" ry="6.4" transform="rotate(32 973.9 283.0)" fill="url(#np)"/>
<ellipse cx="649.0" cy="315.8" rx="6.1" ry="5.5" transform="rotate(33 649.0 315.8)" fill="url(#np)"/>
<ellipse cx="637.1" cy="325.8" rx="6.6" ry="6.3" transform="rotate(40 637.1 325.8)" fill="url(#np)"/>
<ellipse cx="659.4" cy="325.8" rx="6.2" ry="6.0" transform="rotate(56 659.4 325.8)" fill="url(#np)"/>
<ellipse cx="648.9" cy="338.0" rx="6.4" ry="5.9" transform="rotate(160 648.9 338.0)" fill="url(#np)"/>
<ellipse cx="704.2" cy="315.7" rx="6.4" ry="5.8" transform="rotate(9 704.2 315.7)" fill="url(#np)"/>
<ellipse cx="693.8" cy="326.6" rx="6.4" ry="6.0" transform="rotate(93 693.8 326.6)" fill="url(#np)"/>
<ellipse cx="715.0" cy="326.9" rx="6.6" ry="6.0" transform="rotate(2 715.0 326.9)" fill="url(#np)"/>
<ellipse cx="704.1" cy="337.0" rx="6.7" ry="6.4" transform="rotate(109 704.1 337.0)" fill="url(#np)"/>
<ellipse cx="756.6" cy="314.1" rx="6.7" ry="6.3" transform="rotate(115 756.6 314.1)" fill="url(#np)"/>
<ellipse cx="746.6" cy="325.3" rx="6.5" ry="5.8" transform="rotate(139 746.6 325.3)" fill="url(#np)"/>
<ellipse cx="767.3" cy="326.3" rx="6.7" ry="6.5" transform="rotate(15 767.3 326.3)" fill="url(#np)"/>
<ellipse cx="756.5" cy="337.3" rx="6.2" ry="5.8" transform="rotate(84 756.5 337.3)" fill="url(#np)"/>
<ellipse cx="812.9" cy="314.9" rx="6.7" ry="6.2" transform="rotate(165 812.9 314.9)" fill="url(#np)"/>
<ellipse cx="800.3" cy="327.0" rx="6.2" ry="5.9" transform="rotate(95 800.3 327.0)" fill="url(#np)"/>
<ellipse cx="822.8" cy="327.0" rx="6.3" ry="5.8" transform="rotate(14 822.8 327.0)" fill="url(#np)"/>
<ellipse cx="811.9" cy="337.6" rx="6.6" ry="6.1" transform="rotate(124 811.9 337.6)" fill="url(#np)"/>
<ellipse cx="864.8" cy="315.8" rx="6.7" ry="6.4" transform="rotate(2 864.8 315.8)" fill="url(#np)"/>
<ellipse cx="853.4" cy="326.5" rx="6.3" ry="5.9" transform="rotate(82 853.4 326.5)" fill="url(#np)"/>
<ellipse cx="875.2" cy="327.0" rx="6.7" ry="6.0" transform="rotate(111 875.2 327.0)" fill="url(#np)"/>
<ellipse cx="864.5" cy="337.1" rx="6.5" ry="5.9" transform="rotate(61 864.5 337.1)" fill="url(#np)"/>
<ellipse cx="918.9" cy="314.8" rx="6.6" ry="6.1" transform="rotate(170 918.9 314.8)" fill="url(#np)"/>
<ellipse cx="908.2" cy="327.0" rx="6.3" ry="6.2" transform="rotate(17 908.2 327.0)" fill="url(#np)"/>
<ellipse cx="929.9" cy="325.8" rx="6.6" ry="6.3" transform="rotate(32 929.9 325.8)" fill="url(#np)"/>
<ellipse cx="919.2" cy="338.4" rx="6.5" ry="5.8" transform="rotate(41 919.2 338.4)" fill="url(#np)"/>
<ellipse cx="972.8" cy="313.7" rx="6.7" ry="6.3" transform="rotate(92 972.8 313.7)" fill="url(#np)"/>
<ellipse cx="962.0" cy="326.2" rx="6.7" ry="6.2" transform="rotate(60 962.0 326.2)" fill="url(#np)"/>
<ellipse cx="984.0" cy="324.8" rx="6.4" ry="6.2" transform="rotate(177 984.0 324.8)" fill="url(#np)"/>
<ellipse cx="973.5" cy="337.2" rx="6.5" ry="5.8" transform="rotate(60 973.5 337.2)" fill="url(#np)"/>
<ellipse cx="648.5" cy="369.1" rx="6.5" ry="6.3" transform="rotate(149 648.5 369.1)" fill="url(#np)"/>
<ellipse cx="638.2" cy="379.9" rx="6.6" ry="6.6" transform="rotate(99 638.2 379.9)" fill="url(#np)"/>
<ellipse cx="660.2" cy="380.5" rx="6.2" ry="6.0" transform="rotate(178 660.2 380.5)" fill="url(#np)"/>
<ellipse cx="649.3" cy="392.1" rx="6.7" ry="6.0" transform="rotate(170 649.3 392.1)" fill="url(#np)"/>
<ellipse cx="703.0" cy="368.2" rx="6.5" ry="6.3" transform="rotate(59 703.0 368.2)" fill="url(#np)"/>
<ellipse cx="693.3" cy="379.6" rx="6.4" ry="5.7" transform="rotate(175 693.3 379.6)" fill="url(#np)"/>
<ellipse cx="714.2" cy="380.5" rx="6.5" ry="6.1" transform="rotate(101 714.2 380.5)" fill="url(#np)"/>
<ellipse cx="703.3" cy="391.8" rx="6.8" ry="6.6" transform="rotate(108 703.3 391.8)" fill="url(#np)"/>
<ellipse cx="756.5" cy="370.3" rx="6.3" ry="5.9" transform="rotate(150 756.5 370.3)" fill="url(#np)"/>
<ellipse cx="745.1" cy="380.9" rx="6.2" ry="5.4" transform="rotate(32 745.1 380.9)" fill="url(#np)"/>
<ellipse cx="769.0" cy="381.6" rx="6.6" ry="6.0" transform="rotate(121 769.0 381.6)" fill="url(#np)"/>
<ellipse cx="757.3" cy="391.8" rx="6.5" ry="6.4" transform="rotate(3 757.3 391.8)" fill="url(#np)"/>
<ellipse cx="810.4" cy="368.8" rx="6.5" ry="5.9" transform="rotate(94 810.4 368.8)" fill="url(#np)"/>
<ellipse cx="799.4" cy="380.4" rx="6.3" ry="6.1" transform="rotate(7 799.4 380.4)" fill="url(#np)"/>
<ellipse cx="822.5" cy="379.6" rx="6.8" ry="6.4" transform="rotate(85 822.5 379.6)" fill="url(#np)"/>
<ellipse cx="810.9" cy="391.7" rx="6.6" ry="6.4" transform="rotate(135 810.9 391.7)" fill="url(#np)"/>
<ellipse cx="866.1" cy="370.5" rx="6.4" ry="6.0" transform="rotate(102 866.1 370.5)" fill="url(#np)"/>
<ellipse cx="855.0" cy="381.1" rx="6.5" ry="6.0" transform="rotate(163 855.0 381.1)" fill="url(#np)"/>
<ellipse cx="876.4" cy="380.3" rx="6.6" ry="6.5" transform="rotate(132 876.4 380.3)" fill="url(#np)"/>
<ellipse cx="865.7" cy="392.7" rx="6.3" ry="6.0" transform="rotate(13 865.7 392.7)" fill="url(#np)"/>
<ellipse cx="918.9" cy="368.8" rx="6.1" ry="5.9" transform="rotate(95 918.9 368.8)" fill="url(#np)"/>
<ellipse cx="907.2" cy="379.9" rx="6.4" ry="5.8" transform="rotate(12 907.2 379.9)" fill="url(#np)"/>
<ellipse cx="930.8" cy="381.1" rx="6.6" ry="6.5" transform="rotate(76 930.8 381.1)" fill="url(#np)"/>
<ellipse cx="919.4" cy="390.9" rx="6.6" ry="6.3" transform="rotate(163 919.4 390.9)" fill="url(#np)"/>
<ellipse cx="972.2" cy="369.6" rx="6.8" ry="6.0" transform="rotate(44 972.2 369.6)" fill="url(#np)"/>
<ellipse cx="983.7" cy="380.5" rx="6.1" ry="6.1" transform="rotate(147 983.7 380.5)" fill="url(#np)"/>
<ellipse cx="972.7" cy="391.7" rx="6.5" ry="5.8" transform="rotate(6 972.7 391.7)" fill="url(#np)"/>
</g>
<polyline points="630.2,187.4 686.4,170.4 744.0,167.9 765.5,167.9 782.5,201.0 790.9,197.1 795.8,190.3 805.5,195.2" fill="none" stroke="#ff1010" stroke-width="1.4" stroke-dasharray="8 7"/>
<g stroke="#ff1010" stroke-width="0.85" fill="none"><ellipse cx="630.2" cy="187.4" rx="2.9" ry="3.8"/><line x1="628.1" y1="187.4" x2="632.3" y2="187.4"/><line x1="630.2" y1="182.8" x2="630.2" y2="192.0"/></g>
<g stroke="#ff1010" stroke-width="0.85" fill="none"><ellipse cx="686.4" cy="170.4" rx="2.9" ry="3.8"/><line x1="684.3" y1="170.4" x2="688.5" y2="170.4"/><line x1="686.4" y1="165.8" x2="686.4" y2="175.0"/></g>
<g stroke="#ff1010" stroke-width="0.85" fill="none"><ellipse cx="744.0" cy="167.9" rx="2.9" ry="3.8"/><line x1="741.9" y1="167.9" x2="746.1" y2="167.9"/><line x1="744.0" y1="163.3" x2="744.0" y2="172.5"/></g>
<g stroke="#ff1010" stroke-width="0.85" fill="none"><ellipse cx="765.5" cy="167.9" rx="2.9" ry="3.8"/><line x1="763.4" y1="167.9" x2="767.6" y2="167.9"/><line x1="765.5" y1="163.3" x2="765.5" y2="172.5"/></g>
<g stroke="#ff1010" stroke-width="0.85" fill="none"><ellipse cx="782.5" cy="201.0" rx="2.9" ry="3.8"/><line x1="780.4" y1="201.0" x2="784.6" y2="201.0"/><line x1="782.5" y1="196.4" x2="782.5" y2="205.6"/></g>
<g stroke="#ff1010" stroke-width="0.85" fill="none"><ellipse cx="790.9" cy="197.1" rx="2.9" ry="3.8"/><line x1="788.8" y1="197.1" x2="793.0" y2="197.1"/><line x1="790.9" y1="192.5" x2="790.9" y2="201.7"/></g>
<g stroke="#ff1010" stroke-width="0.85" fill="none"><ellipse cx="795.8" cy="190.3" rx="2.9" ry="3.8"/><line x1="793.7" y1="190.3" x2="797.9" y2="190.3"/><line x1="795.8" y1="185.8" x2="795.8" y2="194.9"/></g>
<g stroke="#ff1010" stroke-width="0.85" fill="none"><ellipse cx="805.5" cy="195.2" rx="2.9" ry="3.8"/><line x1="803.4" y1="195.2" x2="807.6" y2="195.2"/><line x1="805.5" y1="190.6" x2="805.5" y2="199.8"/></g>
<g stroke="#ff1010" stroke-width="0.85" fill="none"><ellipse cx="791.5" cy="195.4" rx="2.9" ry="3.8"/><line x1="789.4" y1="195.4" x2="793.6" y2="195.4"/><line x1="791.5" y1="190.8" x2="791.5" y2="199.9"/></g>
<g stroke="#ff1010" stroke-width="0.85" fill="none"><ellipse cx="806.6" cy="196.1" rx="2.9" ry="3.8"/><line x1="804.5" y1="196.1" x2="808.7" y2="196.1"/><line x1="806.6" y1="191.5" x2="806.6" y2="200.6"/></g>
<polyline points="860.2,29.8 841.6,83.8 809.0,128.3 798.0,141.6" fill="none" stroke="#18f018" stroke-width="1.1" stroke-dasharray="6 3 1.5 3"/>
<polyline points="793.4,161.2 812.2,190.2 815.3,196.4 828.6,194.8" fill="none" stroke="#18f018" stroke-width="1.1" stroke-dasharray="6 3 1.5 3"/>
<g stroke="#18f018" stroke-width="0.85" fill="none"><ellipse cx="860.2" cy="29.8" rx="2.9" ry="3.8"/><line x1="858.1" y1="29.8" x2="862.3" y2="29.8"/><line x1="860.2" y1="25.2" x2="860.2" y2="34.4"/></g>
<g stroke="#18f018" stroke-width="0.85" fill="none"><ellipse cx="841.6" cy="83.8" rx="2.9" ry="3.8"/><line x1="839.5" y1="83.8" x2="843.7" y2="83.8"/><line x1="841.6" y1="79.2" x2="841.6" y2="88.3"/></g>
<g stroke="#18f018" stroke-width="0.85" fill="none"><ellipse cx="809.0" cy="128.3" rx="2.9" ry="3.8"/><line x1="806.9" y1="128.3" x2="811.1" y2="128.3"/><line x1="809.0" y1="123.8" x2="809.0" y2="132.9"/></g>
<g stroke="#18f018" stroke-width="0.85" fill="none"><ellipse cx="789.5" cy="153.4" rx="2.9" ry="3.8"/><line x1="787.4" y1="153.4" x2="791.6" y2="153.4"/><line x1="789.5" y1="148.8" x2="789.5" y2="158.0"/></g>
<g stroke="#18f018" stroke-width="0.85" fill="none"><ellipse cx="815.3" cy="196.4" rx="2.9" ry="3.8"/><line x1="813.2" y1="196.4" x2="817.4" y2="196.4"/><line x1="815.3" y1="191.8" x2="815.3" y2="201.0"/></g>
<g stroke="#18f018" stroke-width="0.85" fill="none"><ellipse cx="828.6" cy="194.8" rx="2.9" ry="3.8"/><line x1="826.5" y1="194.8" x2="830.7" y2="194.8"/><line x1="828.6" y1="190.2" x2="828.6" y2="199.4"/></g>
<g stroke="#18f018" stroke-width="0.85" fill="none"><ellipse cx="832.5" cy="212.0" rx="2.9" ry="3.8"/><line x1="830.4" y1="212.0" x2="834.6" y2="212.0"/><line x1="832.5" y1="207.4" x2="832.5" y2="216.6"/></g>
<g stroke="#18f018" stroke-width="0.85" fill="none"><ellipse cx="814.5" cy="196.5" rx="2.9" ry="3.8"/><line x1="812.4" y1="196.5" x2="816.6" y2="196.5"/><line x1="814.5" y1="192.0" x2="814.5" y2="201.1"/></g>
<g stroke="#18f018" stroke-width="0.85" fill="none"><ellipse cx="814.9" cy="196.7" rx="2.9" ry="3.8"/><line x1="812.8" y1="196.7" x2="817.0" y2="196.7"/><line x1="814.9" y1="192.2" x2="814.9" y2="201.3"/></g>
<g stroke="#18f018" stroke-width="0.85" fill="none"><ellipse cx="859.4" cy="26.8" rx="2.9" ry="3.8"/><line x1="857.3" y1="26.8" x2="861.5" y2="26.8"/><line x1="859.4" y1="22.3" x2="859.4" y2="31.4"/></g>
<polyline points="821.6,203.4 844.2,198.8 863.8,203.4" fill="none" stroke="#10e8f0" stroke-width="1.2" stroke-dasharray="6 2.5"/>
<polyline points="844.2,198.8 852.8,218.3" fill="none" stroke="#10e8f0" stroke-width="1.2" stroke-dasharray="6 2.5"/>
<polyline points="844.2,198.8 859.8,188.6 851.2,176.9 859.8,176.9 859.8,162.8" fill="none" stroke="#10e8f0" stroke-width="1.2" stroke-dasharray="6 2.5"/>
<polyline points="859.8,188.6 898.0,162.8 943.7,152.5 960.6,137.8 996.8,96.7" fill="none" stroke="#10e8f0" stroke-width="1.2" stroke-dasharray="7 3 1.5 3"/>
<g stroke="#10e8f0" stroke-width="0.85" fill="none"><ellipse cx="821.6" cy="203.4" rx="3.0" ry="3.9"/><line x1="819.4" y1="203.4" x2="823.8" y2="203.4"/><line x1="821.6" y1="198.7" x2="821.6" y2="208.1"/></g>
<g stroke="#10e8f0" stroke-width="0.85" fill="none"><ellipse cx="844.2" cy="198.8" rx="3.0" ry="3.9"/><line x1="842.0" y1="198.8" x2="846.4" y2="198.8"/><line x1="844.2" y1="194.1" x2="844.2" y2="203.4"/></g>
<g stroke="#10e8f0" stroke-width="0.85" fill="none"><ellipse cx="863.8" cy="203.4" rx="3.0" ry="3.9"/><line x1="861.6" y1="203.4" x2="865.9" y2="203.4"/><line x1="863.8" y1="198.7" x2="863.8" y2="208.1"/></g>
<g stroke="#10e8f0" stroke-width="0.85" fill="none"><ellipse cx="852.8" cy="218.3" rx="3.0" ry="3.9"/><line x1="850.6" y1="218.3" x2="855.0" y2="218.3"/><line x1="852.8" y1="213.6" x2="852.8" y2="223.0"/></g>
<g stroke="#10e8f0" stroke-width="0.85" fill="none"><ellipse cx="859.8" cy="188.6" rx="3.0" ry="3.9"/><line x1="857.6" y1="188.6" x2="862.0" y2="188.6"/><line x1="859.8" y1="183.9" x2="859.8" y2="193.3"/></g>
<g stroke="#10e8f0" stroke-width="0.85" fill="none"><ellipse cx="851.2" cy="176.9" rx="3.0" ry="3.9"/><line x1="849.1" y1="176.9" x2="853.4" y2="176.9"/><line x1="851.2" y1="172.2" x2="851.2" y2="181.6"/></g>
<g stroke="#10e8f0" stroke-width="0.85" fill="none"><ellipse cx="859.8" cy="176.9" rx="3.0" ry="3.9"/><line x1="857.6" y1="176.9" x2="862.0" y2="176.9"/><line x1="859.8" y1="172.2" x2="859.8" y2="181.6"/></g>
<g stroke="#10e8f0" stroke-width="0.85" fill="none"><ellipse cx="859.8" cy="162.8" rx="3.0" ry="3.9"/><line x1="857.6" y1="162.8" x2="862.0" y2="162.8"/><line x1="859.8" y1="158.1" x2="859.8" y2="167.5"/></g>
<g stroke="#10e8f0" stroke-width="0.85" fill="none"><ellipse cx="898.0" cy="162.8" rx="3.0" ry="3.9"/><line x1="895.8" y1="162.8" x2="900.2" y2="162.8"/><line x1="898.0" y1="158.1" x2="898.0" y2="167.5"/></g>
<g stroke="#10e8f0" stroke-width="0.85" fill="none"><ellipse cx="943.7" cy="152.5" rx="3.0" ry="3.9"/><line x1="941.5" y1="152.5" x2="945.9" y2="152.5"/><line x1="943.7" y1="147.8" x2="943.7" y2="157.2"/></g>
<g stroke="#10e8f0" stroke-width="0.85" fill="none"><ellipse cx="960.6" cy="137.8" rx="3.0" ry="3.9"/><line x1="958.4" y1="137.8" x2="962.8" y2="137.8"/><line x1="960.6" y1="133.1" x2="960.6" y2="142.5"/></g>
<g stroke="#10e8f0" stroke-width="0.85" fill="none"><ellipse cx="996.8" cy="96.7" rx="3.0" ry="3.9"/><line x1="994.6" y1="96.7" x2="999.0" y2="96.7"/><line x1="996.8" y1="92.0" x2="996.8" y2="101.4"/></g>
<g stroke="#10e8f0" stroke-width="0.85" fill="none"><ellipse cx="844.9" cy="200.2" rx="2.9" ry="3.8"/><line x1="842.8" y1="200.2" x2="847.0" y2="200.2"/><line x1="844.9" y1="195.7" x2="844.9" y2="204.8"/></g>
<g stroke="#10e8f0" stroke-width="0.85" fill="none"><ellipse cx="846.0" cy="201.4" rx="2.9" ry="3.8"/><line x1="843.9" y1="201.4" x2="848.1" y2="201.4"/><line x1="846.0" y1="196.9" x2="846.0" y2="206.0"/></g>
<g stroke="#10e8f0" stroke-width="0.85" fill="none"><ellipse cx="845.6" cy="201.3" rx="2.9" ry="3.8"/><line x1="843.5" y1="201.3" x2="847.7" y2="201.3"/><line x1="845.6" y1="196.7" x2="845.6" y2="205.8"/></g>
<g stroke="#10e8f0" stroke-width="0.85" fill="none"><ellipse cx="841.4" cy="198.5" rx="2.9" ry="3.8"/><line x1="839.3" y1="198.5" x2="843.5" y2="198.5"/><line x1="841.4" y1="194.0" x2="841.4" y2="203.1"/></g>
<g stroke="#10e8f0" stroke-width="0.85" fill="none"><ellipse cx="854.9" cy="220.6" rx="2.9" ry="3.8"/><line x1="852.8" y1="220.6" x2="857.0" y2="220.6"/><line x1="854.9" y1="216.0" x2="854.9" y2="225.1"/></g>
<g stroke="#10e8f0" stroke-width="0.85" fill="none"><ellipse cx="852.7" cy="216.6" rx="2.9" ry="3.8"/><line x1="850.6" y1="216.6" x2="854.8" y2="216.6"/><line x1="852.7" y1="212.1" x2="852.7" y2="221.2"/></g>
<g stroke="#10e8f0" stroke-width="0.85" fill="none"><ellipse cx="849.3" cy="219.4" rx="2.9" ry="3.8"/><line x1="847.2" y1="219.4" x2="851.4" y2="219.4"/><line x1="849.3" y1="214.9" x2="849.3" y2="224.0"/></g>
<g stroke="#10e8f0" stroke-width="0.85" fill="none"><ellipse cx="852.6" cy="220.1" rx="2.9" ry="3.8"/><line x1="850.5" y1="220.1" x2="854.7" y2="220.1"/><line x1="852.6" y1="215.6" x2="852.6" y2="224.7"/></g>
<g stroke="#10e8f0" stroke-width="0.85" fill="none"><ellipse cx="851.9" cy="220.2" rx="2.9" ry="3.8"/><line x1="849.8" y1="220.2" x2="854.0" y2="220.2"/><line x1="851.9" y1="215.6" x2="851.9" y2="224.7"/></g>
<g stroke="#10e8f0" stroke-width="0.85" fill="none"><ellipse cx="851.2" cy="220.4" rx="2.9" ry="3.8"/><line x1="849.1" y1="220.4" x2="853.3" y2="220.4"/><line x1="851.2" y1="215.9" x2="851.2" y2="225.0"/></g>
<polyline points="641.5,325.7 663.0,319.8 720.2,325.7 750.5,311.0 773.9,285.7 787.6,259.3 802.6,247.6 807.5,233.0 812.4,221.6" fill="none" stroke="#1a1aff" stroke-width="1.3" stroke-dasharray="7 3.5"/>
<polyline points="802.6,247.6 806.0,266.0" fill="none" stroke="#1a1aff" stroke-width="1.3" stroke-dasharray="7 3.5"/>
<g stroke="#1a1aff" stroke-width="0.85" fill="none"><ellipse cx="641.5" cy="325.7" rx="2.9" ry="3.8"/><line x1="639.4" y1="325.7" x2="643.6" y2="325.7"/><line x1="641.5" y1="321.1" x2="641.5" y2="330.2"/></g>
<g stroke="#1a1aff" stroke-width="0.85" fill="none"><ellipse cx="663.0" cy="319.8" rx="2.9" ry="3.8"/><line x1="660.9" y1="319.8" x2="665.1" y2="319.8"/><line x1="663.0" y1="315.2" x2="663.0" y2="324.4"/></g>
<g stroke="#1a1aff" stroke-width="0.85" fill="none"><ellipse cx="720.2" cy="325.7" rx="2.9" ry="3.8"/><line x1="718.1" y1="325.7" x2="722.3" y2="325.7"/><line x1="720.2" y1="321.1" x2="720.2" y2="330.2"/></g>
<g stroke="#1a1aff" stroke-width="0.85" fill="none"><ellipse cx="750.5" cy="311.0" rx="2.9" ry="3.8"/><line x1="748.4" y1="311.0" x2="752.6" y2="311.0"/><line x1="750.5" y1="306.4" x2="750.5" y2="315.6"/></g>
<g stroke="#1a1aff" stroke-width="0.85" fill="none"><ellipse cx="773.9" cy="285.7" rx="2.9" ry="3.8"/><line x1="771.8" y1="285.7" x2="776.0" y2="285.7"/><line x1="773.9" y1="281.1" x2="773.9" y2="290.2"/></g>
<g stroke="#1a1aff" stroke-width="0.85" fill="none"><ellipse cx="787.6" cy="259.3" rx="2.9" ry="3.8"/><line x1="785.5" y1="259.3" x2="789.7" y2="259.3"/><line x1="787.6" y1="254.8" x2="787.6" y2="263.9"/></g>
<g stroke="#1a1aff" stroke-width="0.85" fill="none"><ellipse cx="802.6" cy="247.6" rx="2.9" ry="3.8"/><line x1="800.5" y1="247.6" x2="804.7" y2="247.6"/><line x1="802.6" y1="243.0" x2="802.6" y2="252.2"/></g>
<g stroke="#1a1aff" stroke-width="0.85" fill="none"><ellipse cx="807.5" cy="233.0" rx="2.9" ry="3.8"/><line x1="805.4" y1="233.0" x2="809.6" y2="233.0"/><line x1="807.5" y1="228.4" x2="807.5" y2="237.6"/></g>
<g stroke="#1a1aff" stroke-width="0.85" fill="none"><ellipse cx="812.4" cy="221.6" rx="2.9" ry="3.8"/><line x1="810.3" y1="221.6" x2="814.5" y2="221.6"/><line x1="812.4" y1="217.0" x2="812.4" y2="226.2"/></g>
<g stroke="#1a1aff" stroke-width="0.85" fill="none"><ellipse cx="806.0" cy="266.0" rx="2.9" ry="3.8"/><line x1="803.9" y1="266.0" x2="808.1" y2="266.0"/><line x1="806.0" y1="261.4" x2="806.0" y2="270.6"/></g>
<g stroke="#1a1aff" stroke-width="0.85" fill="none"><ellipse cx="786.5" cy="257.2" rx="2.9" ry="3.8"/><line x1="784.4" y1="257.2" x2="788.6" y2="257.2"/><line x1="786.5" y1="252.7" x2="786.5" y2="261.8"/></g>
<g stroke="#1a1aff" stroke-width="0.85" fill="none"><ellipse cx="788.5" cy="256.7" rx="2.9" ry="3.8"/><line x1="786.4" y1="256.7" x2="790.6" y2="256.7"/><line x1="788.5" y1="252.2" x2="788.5" y2="261.3"/></g>
<g stroke="#1a1aff" stroke-width="0.85" fill="none"><ellipse cx="787.8" cy="258.5" rx="2.9" ry="3.8"/><line x1="785.7" y1="258.5" x2="789.9" y2="258.5"/><line x1="787.8" y1="253.9" x2="787.8" y2="263.0"/></g>
<g stroke="#1a1aff" stroke-width="0.85" fill="none"><ellipse cx="784.9" cy="259.3" rx="2.9" ry="3.8"/><line x1="782.8" y1="259.3" x2="787.0" y2="259.3"/><line x1="784.9" y1="254.8" x2="784.9" y2="263.9"/></g>
<g stroke="#1a1aff" stroke-width="0.85" fill="none"><ellipse cx="784.8" cy="258.9" rx="2.9" ry="3.8"/><line x1="782.7" y1="258.9" x2="786.9" y2="258.9"/><line x1="784.8" y1="254.4" x2="784.8" y2="263.5"/></g>
<g stroke="#1a1aff" stroke-width="0.85" fill="none"><ellipse cx="800.7" cy="250.8" rx="2.9" ry="3.8"/><line x1="798.6" y1="250.8" x2="802.8" y2="250.8"/><line x1="800.7" y1="246.3" x2="800.7" y2="255.4"/></g>
<g stroke="#1a1aff" stroke-width="0.85" fill="none"><ellipse cx="800.0" cy="249.0" rx="2.9" ry="3.8"/><line x1="797.9" y1="249.0" x2="802.1" y2="249.0"/><line x1="800.0" y1="244.5" x2="800.0" y2="253.6"/></g>
<g stroke="#1a1aff" stroke-width="0.85" fill="none"><ellipse cx="799.7" cy="245.8" rx="2.9" ry="3.8"/><line x1="797.6" y1="245.8" x2="801.8" y2="245.8"/><line x1="799.7" y1="241.3" x2="799.7" y2="250.4"/></g>
<g stroke="#1a1aff" stroke-width="0.85" fill="none"><ellipse cx="806.1" cy="245.6" rx="2.9" ry="3.8"/><line x1="804.0" y1="245.6" x2="808.2" y2="245.6"/><line x1="806.1" y1="241.0" x2="806.1" y2="250.1"/></g>
<g stroke="#1a1aff" stroke-width="0.85" fill="none"><ellipse cx="803.6" cy="247.3" rx="2.9" ry="3.8"/><line x1="801.5" y1="247.3" x2="805.7" y2="247.3"/><line x1="803.6" y1="242.8" x2="803.6" y2="251.9"/></g>
<g stroke="#1a1aff" stroke-width="0.85" fill="none"><ellipse cx="805.9" cy="265.5" rx="2.9" ry="3.8"/><line x1="803.8" y1="265.5" x2="808.0" y2="265.5"/><line x1="805.9" y1="260.9" x2="805.9" y2="270.0"/></g>
<g stroke="#1a1aff" stroke-width="0.85" fill="none"><ellipse cx="804.6" cy="267.5" rx="2.9" ry="3.8"/><line x1="802.5" y1="267.5" x2="806.7" y2="267.5"/><line x1="804.6" y1="262.9" x2="804.6" y2="272.0"/></g>
<g stroke="#1a1aff" stroke-width="0.85" fill="none"><ellipse cx="812.6" cy="221.4" rx="2.9" ry="3.8"/><line x1="810.5" y1="221.4" x2="814.7" y2="221.4"/><line x1="812.6" y1="216.8" x2="812.6" y2="225.9"/></g>
<polyline points="881.4,208.0 878.7,218.8 868.8,235.0 878.7,241.3 873.3,249.4 882.3,250.3 892.2,261.1 912.0,285.4 941.5,324.2 954.5,334.8 970.2,351.6 986.6,362.5 1007.8,379.7" fill="none" stroke="#000000" stroke-width="1.0" stroke-dasharray="5 2.5 1 2.5"/>
<g stroke="#000000" stroke-width="0.85" fill="none"><ellipse cx="881.4" cy="208.0" rx="2.9" ry="3.8"/><line x1="879.3" y1="208.0" x2="883.5" y2="208.0"/><line x1="881.4" y1="203.4" x2="881.4" y2="212.6"/></g>
<g stroke="#000000" stroke-width="0.85" fill="none"><ellipse cx="878.7" cy="218.8" rx="2.9" ry="3.8"/><line x1="876.6" y1="218.8" x2="880.8" y2="218.8"/><line x1="878.7" y1="214.2" x2="878.7" y2="223.4"/></g>
<g stroke="#000000" stroke-width="0.85" fill="none"><ellipse cx="868.8" cy="235.0" rx="2.9" ry="3.8"/><line x1="866.7" y1="235.0" x2="870.9" y2="235.0"/><line x1="868.8" y1="230.4" x2="868.8" y2="239.6"/></g>
<g stroke="#000000" stroke-width="0.85" fill="none"><ellipse cx="878.7" cy="241.3" rx="2.9" ry="3.8"/><line x1="876.6" y1="241.3" x2="880.8" y2="241.3"/><line x1="878.7" y1="236.8" x2="878.7" y2="245.9"/></g>
<g stroke="#000000" stroke-width="0.85" fill="none"><ellipse cx="873.3" cy="249.4" rx="2.9" ry="3.8"/><line x1="871.2" y1="249.4" x2="875.4" y2="249.4"/><line x1="873.3" y1="244.8" x2="873.3" y2="254.0"/></g>
<g stroke="#000000" stroke-width="0.85" fill="none"><ellipse cx="882.3" cy="250.3" rx="2.9" ry="3.8"/><line x1="880.2" y1="250.3" x2="884.4" y2="250.3"/><line x1="882.3" y1="245.8" x2="882.3" y2="254.9"/></g>
<g stroke="#000000" stroke-width="0.85" fill="none"><ellipse cx="892.2" cy="261.1" rx="2.9" ry="3.8"/><line x1="890.1" y1="261.1" x2="894.3" y2="261.1"/><line x1="892.2" y1="256.6" x2="892.2" y2="265.7"/></g>
<g stroke="#000000" stroke-width="0.85" fill="none"><ellipse cx="912.0" cy="285.4" rx="2.9" ry="3.8"/><line x1="909.9" y1="285.4" x2="914.1" y2="285.4"/><line x1="912.0" y1="280.8" x2="912.0" y2="289.9"/></g>
<g stroke="#000000" stroke-width="0.85" fill="none"><ellipse cx="941.5" cy="324.2" rx="2.9" ry="3.8"/><line x1="939.4" y1="324.2" x2="943.6" y2="324.2"/><line x1="941.5" y1="319.6" x2="941.5" y2="328.8"/></g>
<g stroke="#000000" stroke-width="0.85" fill="none"><ellipse cx="954.5" cy="334.8" rx="2.9" ry="3.8"/><line x1="952.4" y1="334.8" x2="956.6" y2="334.8"/><line x1="954.5" y1="330.2" x2="954.5" y2="339.4"/></g>
<g stroke="#000000" stroke-width="0.85" fill="none"><ellipse cx="970.2" cy="351.6" rx="2.9" ry="3.8"/><line x1="968.1" y1="351.6" x2="972.4" y2="351.6"/><line x1="970.2" y1="347.1" x2="970.2" y2="356.2"/></g>
<g stroke="#000000" stroke-width="0.85" fill="none"><ellipse cx="986.6" cy="362.5" rx="2.9" ry="3.8"/><line x1="984.5" y1="362.5" x2="988.7" y2="362.5"/><line x1="986.6" y1="357.9" x2="986.6" y2="367.1"/></g>
<g stroke="#000000" stroke-width="0.85" fill="none"><ellipse cx="1007.8" cy="379.7" rx="2.9" ry="3.8"/><line x1="1005.6" y1="379.7" x2="1009.9" y2="379.7"/><line x1="1007.8" y1="375.1" x2="1007.8" y2="384.2"/></g>
<g stroke="#000000" stroke-width="0.85" fill="none"><ellipse cx="879.8" cy="209.9" rx="2.9" ry="3.8"/><line x1="877.7" y1="209.9" x2="881.9" y2="209.9"/><line x1="879.8" y1="205.4" x2="879.8" y2="214.5"/></g>
<g stroke="#000000" stroke-width="0.85" fill="none"><ellipse cx="881.0" cy="206.9" rx="2.9" ry="3.8"/><line x1="878.9" y1="206.9" x2="883.1" y2="206.9"/><line x1="881.0" y1="202.3" x2="881.0" y2="211.4"/></g>
<g stroke="#000000" stroke-width="0.85" fill="none"><ellipse cx="877.1" cy="208.2" rx="2.9" ry="3.8"/><line x1="875.0" y1="208.2" x2="879.2" y2="208.2"/><line x1="877.1" y1="203.7" x2="877.1" y2="212.8"/></g>
<g stroke="#000000" stroke-width="0.85" fill="none"><ellipse cx="876.6" cy="221.1" rx="2.9" ry="3.8"/><line x1="874.5" y1="221.1" x2="878.7" y2="221.1"/><line x1="876.6" y1="216.6" x2="876.6" y2="225.7"/></g>
<g stroke="#000000" stroke-width="0.85" fill="none"><ellipse cx="879.1" cy="222.1" rx="2.9" ry="3.8"/><line x1="877.0" y1="222.1" x2="881.2" y2="222.1"/><line x1="879.1" y1="217.5" x2="879.1" y2="226.6"/></g>
<g stroke="#000000" stroke-width="0.85" fill="none"><ellipse cx="873.9" cy="246.6" rx="2.9" ry="3.8"/><line x1="871.8" y1="246.6" x2="876.0" y2="246.6"/><line x1="873.9" y1="242.1" x2="873.9" y2="251.2"/></g>
<g stroke="#000000" stroke-width="0.85" fill="none"><ellipse cx="878.2" cy="248.5" rx="2.9" ry="3.8"/><line x1="876.1" y1="248.5" x2="880.3" y2="248.5"/><line x1="878.2" y1="244.0" x2="878.2" y2="253.1"/></g>
<g stroke="#000000" stroke-width="0.85" fill="none"><ellipse cx="875.2" cy="243.0" rx="2.9" ry="3.8"/><line x1="873.1" y1="243.0" x2="877.3" y2="243.0"/><line x1="875.2" y1="238.5" x2="875.2" y2="247.6"/></g>
<g stroke="#000000" stroke-width="0.85" fill="none"><ellipse cx="878.9" cy="246.3" rx="2.9" ry="3.8"/><line x1="876.8" y1="246.3" x2="881.0" y2="246.3"/><line x1="878.9" y1="241.7" x2="878.9" y2="250.8"/></g>
<rect x="73.1" y="474" width="942.9" height="156" fill="#021c02"/>
<clipPath id="ctop"><rect x="73.1" y="474" width="942.9" height="156"/></clipPath>
<g clip-path="url(#ctop)">
<rect x="230" y="474" width="157" height="156" fill="#022202" opacity="0.6"/>
<rect x="545" y="474" width="157" height="156" fill="#032603" opacity="0.7"/>
<rect x="702" y="474" width="160" height="156" fill="#022402" opacity="0.7"/>
<rect x="862" y="474" width="154" height="156" fill="#032803" opacity="0.8"/>
<rect x="73" y="560" width="70" height="70" fill="url(#vig)"/>
<ellipse cx="152" cy="548" rx="85" ry="80" fill="url(#gglow)" opacity="0.28"/>
<g filter="url(#b2)" opacity="0.55"><circle cx="80" cy="492" r="5" fill="#064806"/><path d="M160,566 L178,590" stroke="#064806" stroke-width="7"/></g>
<ellipse cx="307" cy="542" rx="40" ry="42" fill="url(#gglow)" opacity="0.9"/>
<g opacity="0.8" filter="url(#b15)">
<circle cx="302.8" cy="520.0" r="14" fill="url(#gbody)"/>
<circle cx="296.6" cy="535.6" r="14" fill="url(#gbody)"/>
<circle cx="307.5" cy="532.5" r="14" fill="url(#gbody)"/>
<circle cx="293.4" cy="548.0" r="14" fill="url(#gbody)"/>
<circle cx="304.4" cy="545.0" r="14" fill="url(#gbody)"/>
<circle cx="315.3" cy="543.4" r="14" fill="url(#gbody)"/>
<circle cx="301.2" cy="559.0" r="14" fill="url(#gbody)"/>
<circle cx="313.8" cy="554.4" r="14" fill="url(#gbody)"/>
<circle cx="324.7" cy="551.2" r="14" fill="url(#gbody)"/>
<circle cx="302.8" cy="520.0" r="6.6" fill="url(#gp)"/>
<circle cx="296.6" cy="535.6" r="6.6" fill="url(#gp)"/>
<circle cx="307.5" cy="532.5" r="6.6" fill="url(#gp)"/>
<circle cx="293.4" cy="548.0" r="6.6" fill="url(#gp)"/>
<circle cx="304.4" cy="545.0" r="6.6" fill="url(#gp)"/>
<circle cx="315.3" cy="543.4" r="6.6" fill="url(#gp)"/>
<circle cx="301.2" cy="559.0" r="6.6" fill="url(#gp)"/>
<circle cx="313.8" cy="554.4" r="6.6" fill="url(#gp)"/>
<circle cx="324.7" cy="551.2" r="6.6" fill="url(#gp)"/>
</g>
<ellipse cx="468" cy="550" rx="48" ry="42" fill="url(#gglow)" opacity="0.9"/>
<g opacity="0.9" filter="url(#b15)">
<circle cx="457.5" cy="534.0" r="14" fill="url(#gbody)"/>
<circle cx="470.0" cy="531.0" r="14" fill="url(#gbody)"/>
<circle cx="482.5" cy="532.5" r="14" fill="url(#gbody)"/>
<circle cx="451.2" cy="545.0" r="14" fill="url(#gbody)"/>
<circle cx="462.2" cy="543.4" r="14" fill="url(#gbody)"/>
<circle cx="474.7" cy="543.4" r="14" fill="url(#gbody)"/>
<circle cx="485.6" cy="543.4" r="14" fill="url(#gbody)"/>
<circle cx="445.0" cy="556.0" r="14" fill="url(#gbody)"/>
<circle cx="457.5" cy="556.0" r="14" fill="url(#gbody)"/>
<circle cx="470.0" cy="554.4" r="14" fill="url(#gbody)"/>
<circle cx="482.5" cy="554.4" r="14" fill="url(#gbody)"/>
<circle cx="452.8" cy="568.4" r="14" fill="url(#gbody)"/>
<circle cx="465.3" cy="565.3" r="14" fill="url(#gbody)"/>
<circle cx="496.6" cy="563.8" r="14" fill="url(#gbody)"/>
<circle cx="457.5" cy="534.0" r="6.6" fill="url(#gp)"/>
<circle cx="470.0" cy="531.0" r="6.6" fill="url(#gp)"/>
<circle cx="482.5" cy="532.5" r="6.6" fill="url(#gp)"/>
<circle cx="451.2" cy="545.0" r="6.6" fill="url(#gp)"/>
<circle cx="462.2" cy="543.4" r="6.6" fill="url(#gp)"/>
<circle cx="474.7" cy="543.4" r="6.6" fill="url(#gp)"/>
<circle cx="485.6" cy="543.4" r="6.6" fill="url(#gp)"/>
<circle cx="445.0" cy="556.0" r="6.6" fill="url(#gp)"/>
<circle cx="457.5" cy="556.0" r="6.6" fill="url(#gp)"/>
<circle cx="470.0" cy="554.4" r="6.6" fill="url(#gp)"/>
<circle cx="482.5" cy="554.4" r="6.6" fill="url(#gp)"/>
<circle cx="452.8" cy="568.4" r="6.6" fill="url(#gp)"/>
<circle cx="465.3" cy="565.3" r="6.6" fill="url(#gp)"/>
<circle cx="496.6" cy="563.8" r="6.6" fill="url(#gp)"/>
</g>
<ellipse cx="628" cy="545" rx="58" ry="56" fill="url(#gglow)" opacity="0.9"/>
<g opacity="1.0" filter="url(#b15)">
<circle cx="633.0" cy="515.3" r="14" fill="url(#gbody)"/>
<circle cx="620.6" cy="523.0" r="14" fill="url(#gbody)"/>
<circle cx="608.0" cy="529.4" r="14" fill="url(#gbody)"/>
<circle cx="634.7" cy="529.4" r="14" fill="url(#gbody)"/>
<circle cx="647.0" cy="532.5" r="14" fill="url(#gbody)"/>
<circle cx="655.0" cy="537.0" r="14" fill="url(#gbody)"/>
<circle cx="606.6" cy="542.0" r="14" fill="url(#gbody)"/>
<circle cx="619.0" cy="537.0" r="14" fill="url(#gbody)"/>
<circle cx="630.0" cy="540.3" r="14" fill="url(#gbody)"/>
<circle cx="642.5" cy="545.0" r="14" fill="url(#gbody)"/>
<circle cx="653.4" cy="549.7" r="14" fill="url(#gbody)"/>
<circle cx="597.0" cy="554.4" r="14" fill="url(#gbody)"/>
<circle cx="611.2" cy="554.4" r="14" fill="url(#gbody)"/>
<circle cx="622.0" cy="560.6" r="14" fill="url(#gbody)"/>
<circle cx="633.0" cy="552.8" r="14" fill="url(#gbody)"/>
<circle cx="644.0" cy="557.5" r="14" fill="url(#gbody)"/>
<circle cx="656.6" cy="562.0" r="14" fill="url(#gbody)"/>
<circle cx="611.2" cy="568.4" r="14" fill="url(#gbody)"/>
<circle cx="622.0" cy="573.0" r="14" fill="url(#gbody)"/>
<circle cx="633.0" cy="515.3" r="6.6" fill="url(#gp)"/>
<circle cx="620.6" cy="523.0" r="6.6" fill="url(#gp)"/>
<circle cx="608.0" cy="529.4" r="6.6" fill="url(#gp)"/>
<circle cx="634.7" cy="529.4" r="6.6" fill="url(#gp)"/>
<circle cx="647.0" cy="532.5" r="6.6" fill="url(#gp)"/>
<circle cx="655.0" cy="537.0" r="6.6" fill="url(#gp)"/>
<circle cx="606.6" cy="542.0" r="6.6" fill="url(#gp)"/>
<circle cx="619.0" cy="537.0" r="6.6" fill="url(#gp)"/>
<circle cx="630.0" cy="540.3" r="6.6" fill="url(#gp)"/>
<circle cx="642.5" cy="545.0" r="6.6" fill="url(#gp)"/>
<circle cx="653.4" cy="549.7" r="6.6" fill="url(#gp)"/>
<circle cx="597.0" cy="554.4" r="6.6" fill="url(#gp)"/>
<circle cx="611.2" cy="554.4" r="6.6" fill="url(#gp)"/>
<circle cx="622.0" cy="560.6" r="6.6" fill="url(#gp)"/>
<circle cx="633.0" cy="552.8" r="6.6" fill="url(#gp)"/>
<circle cx="644.0" cy="557.5" r="6.6" fill="url(#gp)"/>
<circle cx="656.6" cy="562.0" r="6.6" fill="url(#gp)"/>
<circle cx="611.2" cy="568.4" r="6.6" fill="url(#gp)"/>
<circle cx="622.0" cy="573.0" r="6.6" fill="url(#gp)"/>
</g>
<ellipse cx="782" cy="547" rx="58" ry="56" fill="url(#gglow)" opacity="0.9"/>
<g opacity="1.0" filter="url(#b15)">
<circle cx="762.8" cy="520.0" r="14" fill="url(#gbody)"/>
<circle cx="776.9" cy="523.0" r="14" fill="url(#gbody)"/>
<circle cx="792.5" cy="521.6" r="14" fill="url(#gbody)"/>
<circle cx="755.0" cy="535.6" r="14" fill="url(#gbody)"/>
<circle cx="770.6" cy="537.0" r="14" fill="url(#gbody)"/>
<circle cx="784.7" cy="531.0" r="14" fill="url(#gbody)"/>
<circle cx="797.0" cy="532.5" r="14" fill="url(#gbody)"/>
<circle cx="809.7" cy="537.0" r="14" fill="url(#gbody)"/>
<circle cx="764.4" cy="545.0" r="14" fill="url(#gbody)"/>
<circle cx="776.9" cy="538.8" r="14" fill="url(#gbody)"/>
<circle cx="789.4" cy="545.0" r="14" fill="url(#gbody)"/>
<circle cx="802.0" cy="546.6" r="14" fill="url(#gbody)"/>
<circle cx="812.8" cy="551.2" r="14" fill="url(#gbody)"/>
<circle cx="756.6" cy="557.5" r="14" fill="url(#gbody)"/>
<circle cx="769.0" cy="556.0" r="14" fill="url(#gbody)"/>
<circle cx="780.0" cy="562.0" r="14" fill="url(#gbody)"/>
<circle cx="791.0" cy="554.4" r="14" fill="url(#gbody)"/>
<circle cx="802.0" cy="560.6" r="14" fill="url(#gbody)"/>
<circle cx="767.5" cy="568.4" r="14" fill="url(#gbody)"/>
<circle cx="780.0" cy="574.7" r="14" fill="url(#gbody)"/>
<circle cx="789.4" cy="565.3" r="14" fill="url(#gbody)"/>
<circle cx="762.8" cy="520.0" r="6.6" fill="url(#gp)"/>
<circle cx="776.9" cy="523.0" r="6.6" fill="url(#gp)"/>
<circle cx="792.5" cy="521.6" r="6.6" fill="url(#gp)"/>
<circle cx="755.0" cy="535.6" r="6.6" fill="url(#gp)"/>
<circle cx="770.6" cy="537.0" r="6.6" fill="url(#gp)"/>
<circle cx="784.7" cy="531.0" r="6.6" fill="url(#gp)"/>
<circle cx="797.0" cy="532.5" r="6.6" fill="url(#gp)"/>
<circle cx="809.7" cy="537.0" r="6.6" fill="url(#gp)"/>
<circle cx="764.4" cy="545.0" r="6.6" fill="url(#gp)"/>
<circle cx="776.9" cy="538.8" r="6.6" fill="url(#gp)"/>
<circle cx="789.4" cy="545.0" r="6.6" fill="url(#gp)"/>
<circle cx="802.0" cy="546.6" r="6.6" fill="url(#gp)"/>
<circle cx="812.8" cy="551.2" r="6.6" fill="url(#gp)"/>
<circle cx="756.6" cy="557.5" r="6.6" fill="url(#gp)"/>
<circle cx="769.0" cy="556.0" r="6.6" fill="url(#gp)"/>
<circle cx="780.0" cy="562.0" r="6.6" fill="url(#gp)"/>
<circle cx="791.0" cy="554.4" r="6.6" fill="url(#gp)"/>
<circle cx="802.0" cy="560.6" r="6.6" fill="url(#gp)"/>
<circle cx="767.5" cy="568.4" r="6.6" fill="url(#gp)"/>
<circle cx="780.0" cy="574.7" r="6.6" fill="url(#gp)"/>
<circle cx="789.4" cy="565.3" r="6.6" fill="url(#gp)"/>
</g>
<ellipse cx="944" cy="551" rx="66" ry="54" fill="url(#gglow)" opacity="0.81"/>
<g opacity="0.62" filter="url(#b2)">
<circle cx="897.8" cy="543.4" r="17" fill="url(#gbody)"/>
<circle cx="916.5" cy="563.8" r="17" fill="url(#gbody)"/>
<circle cx="929.0" cy="527.8" r="17" fill="url(#gbody)"/>
<circle cx="933.7" cy="554.4" r="17" fill="url(#gbody)"/>
<circle cx="954.0" cy="524.7" r="17" fill="url(#gbody)"/>
<circle cx="947.8" cy="554.4" r="17" fill="url(#gbody)"/>
<circle cx="963.4" cy="560.6" r="17" fill="url(#gbody)"/>
<circle cx="936.8" cy="579.4" r="17" fill="url(#gbody)"/>
<circle cx="994.6" cy="524.7" r="17" fill="url(#gbody)"/>
<circle cx="975.9" cy="545.0" r="17" fill="url(#gbody)"/>
<circle cx="912.0" cy="530.0" r="17" fill="url(#gbody)"/>
<circle cx="945.0" cy="540.0" r="17" fill="url(#gbody)"/>
<circle cx="925.0" cy="570.0" r="17" fill="url(#gbody)"/>
<circle cx="960.0" cy="575.0" r="17" fill="url(#gbody)"/>
<circle cx="897.8" cy="543.4" r="9.5" fill="url(#gp)"/>
<circle cx="916.5" cy="563.8" r="9.5" fill="url(#gp)"/>
<circle cx="929.0" cy="527.8" r="9.5" fill="url(#gp)"/>
<circle cx="933.7" cy="554.4" r="9.5" fill="url(#gp)"/>
<circle cx="954.0" cy="524.7" r="9.5" fill="url(#gp)"/>
<circle cx="947.8" cy="554.4" r="9.5" fill="url(#gp)"/>
<circle cx="963.4" cy="560.6" r="9.5" fill="url(#gp)"/>
<circle cx="936.8" cy="579.4" r="9.5" fill="url(#gp)"/>
<circle cx="994.6" cy="524.7" r="9.5" fill="url(#gp)"/>
<circle cx="975.9" cy="545.0" r="9.5" fill="url(#gp)"/>
<circle cx="912.0" cy="530.0" r="9.5" fill="url(#gp)"/>
<circle cx="945.0" cy="540.0" r="9.5" fill="url(#gp)"/>
<circle cx="925.0" cy="570.0" r="9.5" fill="url(#gp)"/>
<circle cx="960.0" cy="575.0" r="9.5" fill="url(#gp)"/>
</g>
</g>
<rect x="229.29999999999998" y="474" width="1.8" height="156" fill="#e6ece6"/>
<rect x="386.70000000000005" y="474" width="1.8" height="156" fill="#e6ece6"/>
<rect x="701.1" y="474" width="1.8" height="156" fill="#e6ece6"/>
<text x="90.8" y="516.3" font-family="'Liberation Sans', Arial, sans-serif" font-size="27" font-weight="bold" fill="#ffffff" stroke="#5a2a00" stroke-width="0.35" paint-order="stroke">Laser on</text>
<text x="871.3" y="512.4" font-family="'Liberation Sans', Arial, sans-serif" font-size="27" font-weight="bold" fill="#ffffff" stroke="#5a2a00" stroke-width="0.35" paint-order="stroke">Laser off</text>
<text x="128.6" y="619.7" font-family="'Liberation Sans', Arial, sans-serif" font-size="27" font-weight="bold" fill="#ffffff" stroke="#5a2a00" stroke-width="0.35" paint-order="stroke">t= 0s</text>
<text x="291.9" y="619.7" font-family="'Liberation Sans', Arial, sans-serif" font-size="27" font-weight="bold" fill="#ffffff" stroke="#5a2a00" stroke-width="0.35" paint-order="stroke">t= 4s</text>
<text x="440.6" y="619.7" font-family="'Liberation Sans', Arial, sans-serif" font-size="27" font-weight="bold" fill="#ffffff" stroke="#5a2a00" stroke-width="0.35" paint-order="stroke">t= 9s</text>
<text x="595.6" y="619.7" font-family="'Liberation Sans', Arial, sans-serif" font-size="27" font-weight="bold" fill="#ffffff" stroke="#5a2a00" stroke-width="0.35" paint-order="stroke">t= 18s</text>
<text x="753.6" y="619.7" font-family="'Liberation Sans', Arial, sans-serif" font-size="27" font-weight="bold" fill="#ffffff" stroke="#5a2a00" stroke-width="0.35" paint-order="stroke">t= 23s</text>
<text x="910.3" y="619.7" font-family="'Liberation Sans', Arial, sans-serif" font-size="27" font-weight="bold" fill="#ffffff" stroke="#5a2a00" stroke-width="0.35" paint-order="stroke">t= 34s</text>
<rect x="75" y="666" width="941.2" height="155" fill="#05a309"/>
<clipPath id="cbot"><rect x="75" y="666" width="941.2" height="155"/></clipPath>
<g clip-path="url(#cbot)">
<rect x="85.7" y="674.8" width="141.6" height="137.4" rx="10" fill="#038408" opacity="0.18" filter="url(#b3)"/>
<rect x="243.5" y="676.5" width="140.0" height="139.8" rx="10" fill="#038408" opacity="0.18" filter="url(#b3)"/>
<rect x="400.4" y="676.0" width="138.3" height="139.2" rx="10" fill="#038408" opacity="0.18" filter="url(#b3)"/>
<rect x="551.5" y="676.5" width="140.0" height="139.8" rx="10" fill="#038408" opacity="0.18" filter="url(#b3)"/>
<rect x="709.8" y="677.3" width="139.2" height="139.2" rx="10" fill="#038408" opacity="0.18" filter="url(#b3)"/>
<rect x="866.2" y="680.7" width="141.6" height="138.0" rx="10" fill="#038408" opacity="0.18" filter="url(#b3)"/>
<g filter="url(#b1)">
<circle cx="97.7" cy="686.8" r="9.4" fill="url(#dk)"/>
<circle cx="117.3" cy="686.8" r="9.4" fill="url(#dk)"/>
<circle cx="136.9" cy="686.8" r="9.4" fill="url(#dk)"/>
<circle cx="156.5" cy="686.8" r="9.4" fill="url(#dk)"/>
<circle cx="176.1" cy="686.8" r="9.4" fill="url(#dk)"/>
<circle cx="195.7" cy="686.8" r="9.4" fill="url(#dk)"/>
<circle cx="215.3" cy="686.8" r="9.4" fill="url(#dk)"/>
<circle cx="97.7" cy="705.7" r="9.4" fill="url(#dk)"/>
<circle cx="117.3" cy="705.7" r="9.4" fill="url(#dk)"/>
<circle cx="136.9" cy="705.7" r="9.4" fill="url(#dk)"/>
<circle cx="156.5" cy="705.7" r="9.4" fill="url(#dk)"/>
<circle cx="176.1" cy="705.7" r="9.4" fill="url(#dk)"/>
<circle cx="195.7" cy="705.7" r="9.4" fill="url(#dk)"/>
<circle cx="215.3" cy="705.7" r="9.4" fill="url(#dk)"/>
<circle cx="97.7" cy="724.6" r="9.4" fill="url(#dk)"/>
<circle cx="117.3" cy="724.6" r="9.4" fill="url(#dk)"/>
<circle cx="136.9" cy="724.6" r="9.4" fill="url(#dk)"/>
<circle cx="156.5" cy="724.6" r="9.4" fill="url(#dk)"/>
<circle cx="176.1" cy="724.6" r="9.4" fill="url(#dk)"/>
<circle cx="195.7" cy="724.6" r="9.4" fill="url(#dk)"/>
<circle cx="215.3" cy="724.6" r="9.4" fill="url(#dk)"/>
<circle cx="97.7" cy="743.5" r="9.4" fill="url(#dk)"/>
<circle cx="117.3" cy="743.5" r="9.4" fill="url(#dk)"/>
<circle cx="136.9" cy="743.5" r="9.4" fill="url(#dk)"/>
<circle cx="156.5" cy="743.5" r="9.4" fill="url(#dk)"/>
<circle cx="176.1" cy="743.5" r="9.4" fill="url(#dk)"/>
<circle cx="195.7" cy="743.5" r="9.4" fill="url(#dk)"/>
<circle cx="215.3" cy="743.5" r="9.4" fill="url(#dk)"/>
<circle cx="97.7" cy="762.4" r="9.4" fill="url(#dk)"/>
<circle cx="117.3" cy="762.4" r="9.4" fill="url(#dk)"/>
<circle cx="136.9" cy="762.4" r="9.4" fill="url(#dk)"/>
<circle cx="156.5" cy="762.4" r="9.4" fill="url(#dk)"/>
<circle cx="176.1" cy="762.4" r="9.4" fill="url(#dk)"/>
<circle cx="195.7" cy="762.4" r="9.4" fill="url(#dk)"/>
<circle cx="215.3" cy="762.4" r="9.4" fill="url(#dk)"/>
<circle cx="97.7" cy="781.3" r="9.4" fill="url(#dk)"/>
<circle cx="117.3" cy="781.3" r="9.4" fill="url(#dk)"/>
<circle cx="136.9" cy="781.3" r="9.4" fill="url(#dk)"/>
<circle cx="156.5" cy="781.3" r="9.4" fill="url(#dk)"/>
<circle cx="176.1" cy="781.3" r="9.4" fill="url(#dk)"/>
<circle cx="195.7" cy="781.3" r="9.4" fill="url(#dk)"/>
<circle cx="215.3" cy="781.3" r="9.4" fill="url(#dk)"/>
<circle cx="97.7" cy="800.2" r="9.4" fill="url(#dk)"/>
<circle cx="117.3" cy="800.2" r="9.4" fill="url(#dk)"/>
<circle cx="136.9" cy="800.2" r="9.4" fill="url(#dk)"/>
<circle cx="156.5" cy="800.2" r="9.4" fill="url(#dk)"/>
<circle cx="176.1" cy="800.2" r="9.4" fill="url(#dk)"/>
<circle cx="195.7" cy="800.2" r="9.4" fill="url(#dk)"/>
<circle cx="215.3" cy="800.2" r="9.4" fill="url(#dk)"/>
<circle cx="255.5" cy="688.5" r="9.4" fill="url(#dk)"/>
<circle cx="274.8" cy="688.5" r="9.4" fill="url(#dk)"/>
<circle cx="294.2" cy="688.5" r="9.4" fill="url(#dk)"/>
<circle cx="313.5" cy="688.5" r="9.4" fill="url(#dk)"/>
<circle cx="332.8" cy="688.5" r="9.4" fill="url(#dk)"/>
<circle cx="352.1" cy="688.5" r="9.4" fill="url(#dk)"/>
<circle cx="371.5" cy="688.5" r="9.4" fill="url(#dk)"/>
<circle cx="255.5" cy="707.8" r="9.4" fill="url(#dk)"/>
<circle cx="274.8" cy="707.8" r="9.4" fill="url(#dk)"/>
<circle cx="294.2" cy="707.8" r="9.4" fill="url(#dk)"/>
<circle cx="313.5" cy="707.8" r="9.4" fill="url(#dk)"/>
<circle cx="332.8" cy="707.8" r="9.4" fill="url(#dk)"/>
<circle cx="352.1" cy="707.8" r="9.4" fill="url(#dk)"/>
<circle cx="371.5" cy="707.8" r="9.4" fill="url(#dk)"/>
<circle cx="255.5" cy="727.1" r="9.4" fill="url(#dk)"/>
<circle cx="274.8" cy="727.1" r="9.4" fill="url(#dk)"/>
<circle cx="294.2" cy="727.1" r="9.4" fill="url(#dk)"/>
<circle cx="313.5" cy="727.1" r="9.4" fill="url(#dk)"/>
<circle cx="332.8" cy="727.1" r="9.4" fill="url(#dk)"/>
<circle cx="352.1" cy="727.1" r="9.4" fill="url(#dk)"/>
<circle cx="371.5" cy="727.1" r="9.4" fill="url(#dk)"/>
<circle cx="255.5" cy="746.4" r="9.4" fill="url(#dk)"/>
<circle cx="274.8" cy="746.4" r="9.4" fill="url(#dk)"/>
<circle cx="294.2" cy="746.4" r="9.4" fill="url(#dk)"/>
<circle cx="313.5" cy="746.4" r="9.4" fill="url(#dk)"/>
<circle cx="332.8" cy="746.4" r="9.4" fill="url(#dk)"/>
<circle cx="352.1" cy="746.4" r="9.4" fill="url(#dk)"/>
<circle cx="371.5" cy="746.4" r="9.4" fill="url(#dk)"/>
<circle cx="255.5" cy="765.7" r="9.4" fill="url(#dk)"/>
<circle cx="274.8" cy="765.7" r="9.4" fill="url(#dk)"/>
<circle cx="294.2" cy="765.7" r="9.4" fill="url(#dk)"/>
<circle cx="313.5" cy="765.7" r="9.4" fill="url(#dk)"/>
<circle cx="332.8" cy="765.7" r="9.4" fill="url(#dk)"/>
<circle cx="352.1" cy="765.7" r="9.4" fill="url(#dk)"/>
<circle cx="371.5" cy="765.7" r="9.4" fill="url(#dk)"/>
<circle cx="255.5" cy="785.0" r="9.4" fill="url(#dk)"/>
<circle cx="274.8" cy="785.0" r="9.4" fill="url(#dk)"/>
<circle cx="294.2" cy="785.0" r="9.4" fill="url(#dk)"/>
<circle cx="313.5" cy="785.0" r="9.4" fill="url(#dk)"/>
<circle cx="332.8" cy="785.0" r="9.4" fill="url(#dk)"/>
<circle cx="352.1" cy="785.0" r="9.4" fill="url(#dk)"/>
<circle cx="371.5" cy="785.0" r="9.4" fill="url(#dk)"/>
<circle cx="255.5" cy="804.3" r="9.4" fill="url(#dk)"/>
<circle cx="274.8" cy="804.3" r="9.4" fill="url(#dk)"/>
<circle cx="294.2" cy="804.3" r="9.4" fill="url(#dk)"/>
<circle cx="313.5" cy="804.3" r="9.4" fill="url(#dk)"/>
<circle cx="332.8" cy="804.3" r="9.4" fill="url(#dk)"/>
<circle cx="352.1" cy="804.3" r="9.4" fill="url(#dk)"/>
<circle cx="371.5" cy="804.3" r="9.4" fill="url(#dk)"/>
<circle cx="412.4" cy="688.0" r="9.4" fill="url(#dk)"/>
<circle cx="431.4" cy="688.0" r="9.4" fill="url(#dk)"/>
<circle cx="450.5" cy="688.0" r="9.4" fill="url(#dk)"/>
<circle cx="469.5" cy="688.0" r="9.4" fill="url(#dk)"/>
<circle cx="488.6" cy="688.0" r="9.4" fill="url(#dk)"/>
<circle cx="507.6" cy="688.0" r="9.4" fill="url(#dk)"/>
<circle cx="526.7" cy="688.0" r="9.4" fill="url(#dk)"/>
<circle cx="412.4" cy="707.2" r="9.4" fill="url(#dk)"/>
<circle cx="431.4" cy="707.2" r="9.4" fill="url(#dk)"/>
<circle cx="450.5" cy="707.2" r="9.4" fill="url(#dk)"/>
<circle cx="469.5" cy="707.2" r="9.4" fill="url(#dk)"/>
<circle cx="488.6" cy="707.2" r="9.4" fill="url(#dk)"/>
<circle cx="507.6" cy="707.2" r="9.4" fill="url(#dk)"/>
<circle cx="526.7" cy="707.2" r="9.4" fill="url(#dk)"/>
<circle cx="412.4" cy="726.4" r="9.4" fill="url(#dk)"/>
<circle cx="431.4" cy="726.4" r="9.4" fill="url(#dk)"/>
<circle cx="450.5" cy="726.4" r="9.4" fill="url(#dk)"/>
<circle cx="469.5" cy="726.4" r="9.4" fill="url(#dk)"/>
<circle cx="488.6" cy="726.4" r="9.4" fill="url(#dk)"/>
<circle cx="507.6" cy="726.4" r="9.4" fill="url(#dk)"/>
<circle cx="526.7" cy="726.4" r="9.4" fill="url(#dk)"/>
<circle cx="412.4" cy="745.6" r="9.4" fill="url(#dk)"/>
<circle cx="431.4" cy="745.6" r="9.4" fill="url(#dk)"/>
<circle cx="450.5" cy="745.6" r="9.4" fill="url(#dk)"/>
<circle cx="469.5" cy="745.6" r="9.4" fill="url(#dk)"/>
<circle cx="488.6" cy="745.6" r="9.4" fill="url(#dk)"/>
<circle cx="507.6" cy="745.6" r="9.4" fill="url(#dk)"/>
<circle cx="526.7" cy="745.6" r="9.4" fill="url(#dk)"/>
<circle cx="412.4" cy="764.8" r="9.4" fill="url(#dk)"/>
<circle cx="431.4" cy="764.8" r="9.4" fill="url(#dk)"/>
<circle cx="450.5" cy="764.8" r="9.4" fill="url(#dk)"/>
<circle cx="469.5" cy="764.8" r="9.4" fill="url(#dk)"/>
<circle cx="488.6" cy="764.8" r="9.4" fill="url(#dk)"/>
<circle cx="507.6" cy="764.8" r="9.4" fill="url(#dk)"/>
<circle cx="526.7" cy="764.8" r="9.4" fill="url(#dk)"/>
<circle cx="412.4" cy="784.0" r="9.4" fill="url(#dk)"/>
<circle cx="431.4" cy="784.0" r="9.4" fill="url(#dk)"/>
<circle cx="450.5" cy="784.0" r="9.4" fill="url(#dk)"/>
<circle cx="469.5" cy="784.0" r="9.4" fill="url(#dk)"/>
<circle cx="488.6" cy="784.0" r="9.4" fill="url(#dk)"/>
<circle cx="507.6" cy="784.0" r="9.4" fill="url(#dk)"/>
<circle cx="526.7" cy="784.0" r="9.4" fill="url(#dk)"/>
<circle cx="412.4" cy="803.2" r="9.4" fill="url(#dk)"/>
<circle cx="431.4" cy="803.2" r="9.4" fill="url(#dk)"/>
<circle cx="450.5" cy="803.2" r="9.4" fill="url(#dk)"/>
<circle cx="469.5" cy="803.2" r="9.4" fill="url(#dk)"/>
<circle cx="488.6" cy="803.2" r="9.4" fill="url(#dk)"/>
<circle cx="507.6" cy="803.2" r="9.4" fill="url(#dk)"/>
<circle cx="526.7" cy="803.2" r="9.4" fill="url(#dk)"/>
<circle cx="563.5" cy="688.5" r="9.4" fill="url(#dk)"/>
<circle cx="582.8" cy="688.5" r="9.4" fill="url(#dk)"/>
<circle cx="602.2" cy="688.5" r="9.4" fill="url(#dk)"/>
<circle cx="621.5" cy="688.5" r="9.4" fill="url(#dk)"/>
<circle cx="640.8" cy="688.5" r="9.4" fill="url(#dk)"/>
<circle cx="660.1" cy="688.5" r="9.4" fill="url(#dk)"/>
<circle cx="679.5" cy="688.5" r="9.4" fill="url(#dk)"/>
<circle cx="563.5" cy="707.8" r="9.4" fill="url(#dk)"/>
<circle cx="582.8" cy="707.8" r="9.4" fill="url(#dk)"/>
<circle cx="602.2" cy="707.8" r="9.4" fill="url(#dk)"/>
<circle cx="621.5" cy="707.8" r="9.4" fill="url(#dk)"/>
<circle cx="640.8" cy="707.8" r="9.4" fill="url(#dk)"/>
<circle cx="660.1" cy="707.8" r="9.4" fill="url(#dk)"/>
<circle cx="679.5" cy="707.8" r="9.4" fill="url(#dk)"/>
<circle cx="563.5" cy="727.1" r="9.4" fill="url(#dk)"/>
<circle cx="582.8" cy="727.1" r="9.4" fill="url(#dk)"/>
<circle cx="602.2" cy="727.1" r="9.4" fill="url(#dk)"/>
<circle cx="621.5" cy="727.1" r="9.4" fill="url(#dk)"/>
<circle cx="640.8" cy="727.1" r="9.4" fill="url(#dk)"/>
<circle cx="660.1" cy="727.1" r="9.4" fill="url(#dk)"/>
<circle cx="679.5" cy="727.1" r="9.4" fill="url(#dk)"/>
<circle cx="563.5" cy="746.4" r="9.4" fill="url(#dk)"/>
<circle cx="582.8" cy="746.4" r="9.4" fill="url(#dk)"/>
<circle cx="602.2" cy="746.4" r="9.4" fill="url(#dk)"/>
<circle cx="621.5" cy="746.4" r="9.4" fill="url(#dk)"/>
<circle cx="640.8" cy="746.4" r="9.4" fill="url(#dk)"/>
<circle cx="660.1" cy="746.4" r="9.4" fill="url(#dk)"/>
<circle cx="679.5" cy="746.4" r="9.4" fill="url(#dk)"/>
<circle cx="563.5" cy="765.7" r="9.4" fill="url(#dk)"/>
<circle cx="582.8" cy="765.7" r="9.4" fill="url(#dk)"/>
<circle cx="602.2" cy="765.7" r="9.4" fill="url(#dk)"/>
<circle cx="621.5" cy="765.7" r="9.4" fill="url(#dk)"/>
<circle cx="640.8" cy="765.7" r="9.4" fill="url(#dk)"/>
<circle cx="660.1" cy="765.7" r="9.4" fill="url(#dk)"/>
<circle cx="679.5" cy="765.7" r="9.4" fill="url(#dk)"/>
<circle cx="563.5" cy="785.0" r="9.4" fill="url(#dk)"/>
<circle cx="582.8" cy="785.0" r="9.4" fill="url(#dk)"/>
<circle cx="602.2" cy="785.0" r="9.4" fill="url(#dk)"/>
<circle cx="621.5" cy="785.0" r="9.4" fill="url(#dk)"/>
<circle cx="640.8" cy="785.0" r="9.4" fill="url(#dk)"/>
<circle cx="660.1" cy="785.0" r="9.4" fill="url(#dk)"/>
<circle cx="679.5" cy="785.0" r="9.4" fill="url(#dk)"/>
<circle cx="563.5" cy="804.3" r="9.4" fill="url(#dk)"/>
<circle cx="582.8" cy="804.3" r="9.4" fill="url(#dk)"/>
<circle cx="602.2" cy="804.3" r="9.4" fill="url(#dk)"/>
<circle cx="621.5" cy="804.3" r="9.4" fill="url(#dk)"/>
<circle cx="640.8" cy="804.3" r="9.4" fill="url(#dk)"/>
<circle cx="660.1" cy="804.3" r="9.4" fill="url(#dk)"/>
<circle cx="679.5" cy="804.3" r="9.4" fill="url(#dk)"/>
<circle cx="721.8" cy="689.3" r="9.4" fill="url(#dk)"/>
<circle cx="741.0" cy="689.3" r="9.4" fill="url(#dk)"/>
<circle cx="760.2" cy="689.3" r="9.4" fill="url(#dk)"/>
<circle cx="779.4" cy="689.3" r="9.4" fill="url(#dk)"/>
<circle cx="798.6" cy="689.3" r="9.4" fill="url(#dk)"/>
<circle cx="817.8" cy="689.3" r="9.4" fill="url(#dk)"/>
<circle cx="837.0" cy="689.3" r="9.4" fill="url(#dk)"/>
<circle cx="721.8" cy="708.5" r="9.4" fill="url(#dk)"/>
<circle cx="741.0" cy="708.5" r="9.4" fill="url(#dk)"/>
<circle cx="760.2" cy="708.5" r="9.4" fill="url(#dk)"/>
<circle cx="779.4" cy="708.5" r="9.4" fill="url(#dk)"/>
<circle cx="798.6" cy="708.5" r="9.4" fill="url(#dk)"/>
<circle cx="817.8" cy="708.5" r="9.4" fill="url(#dk)"/>
<circle cx="837.0" cy="708.5" r="9.4" fill="url(#dk)"/>
<circle cx="721.8" cy="727.7" r="9.4" fill="url(#dk)"/>
<circle cx="741.0" cy="727.7" r="9.4" fill="url(#dk)"/>
<circle cx="760.2" cy="727.7" r="9.4" fill="url(#dk)"/>
<circle cx="779.4" cy="727.7" r="9.4" fill="url(#dk)"/>
<circle cx="798.6" cy="727.7" r="9.4" fill="url(#dk)"/>
<circle cx="817.8" cy="727.7" r="9.4" fill="url(#dk)"/>
<circle cx="837.0" cy="727.7" r="9.4" fill="url(#dk)"/>
<circle cx="721.8" cy="746.9" r="9.4" fill="url(#dk)"/>
<circle cx="741.0" cy="746.9" r="9.4" fill="url(#dk)"/>
<circle cx="760.2" cy="746.9" r="9.4" fill="url(#dk)"/>
<circle cx="779.4" cy="746.9" r="9.4" fill="url(#dk)"/>
<circle cx="798.6" cy="746.9" r="9.4" fill="url(#dk)"/>
<circle cx="817.8" cy="746.9" r="9.4" fill="url(#dk)"/>
<circle cx="837.0" cy="746.9" r="9.4" fill="url(#dk)"/>
<circle cx="721.8" cy="766.1" r="9.4" fill="url(#dk)"/>
<circle cx="741.0" cy="766.1" r="9.4" fill="url(#dk)"/>
<circle cx="760.2" cy="766.1" r="9.4" fill="url(#dk)"/>
<circle cx="779.4" cy="766.1" r="9.4" fill="url(#dk)"/>
<circle cx="798.6" cy="766.1" r="9.4" fill="url(#dk)"/>
<circle cx="817.8" cy="766.1" r="9.4" fill="url(#dk)"/>
<circle cx="837.0" cy="766.1" r="9.4" fill="url(#dk)"/>
<circle cx="721.8" cy="785.3" r="9.4" fill="url(#dk)"/>
<circle cx="741.0" cy="785.3" r="9.4" fill="url(#dk)"/>
<circle cx="760.2" cy="785.3" r="9.4" fill="url(#dk)"/>
<circle cx="779.4" cy="785.3" r="9.4" fill="url(#dk)"/>
<circle cx="798.6" cy="785.3" r="9.4" fill="url(#dk)"/>
<circle cx="817.8" cy="785.3" r="9.4" fill="url(#dk)"/>
<circle cx="837.0" cy="785.3" r="9.4" fill="url(#dk)"/>
<circle cx="721.8" cy="804.5" r="9.4" fill="url(#dk)"/>
<circle cx="741.0" cy="804.5" r="9.4" fill="url(#dk)"/>
<circle cx="760.2" cy="804.5" r="9.4" fill="url(#dk)"/>
<circle cx="779.4" cy="804.5" r="9.4" fill="url(#dk)"/>
<circle cx="798.6" cy="804.5" r="9.4" fill="url(#dk)"/>
<circle cx="817.8" cy="804.5" r="9.4" fill="url(#dk)"/>
<circle cx="837.0" cy="804.5" r="9.4" fill="url(#dk)"/>
<circle cx="878.2" cy="692.7" r="9.4" fill="url(#dk)"/>
<circle cx="897.8" cy="692.7" r="9.4" fill="url(#dk)"/>
<circle cx="917.4" cy="692.7" r="9.4" fill="url(#dk)"/>
<circle cx="937.0" cy="692.7" r="9.4" fill="url(#dk)"/>
<circle cx="956.6" cy="692.7" r="9.4" fill="url(#dk)"/>
<circle cx="976.2" cy="692.7" r="9.4" fill="url(#dk)"/>
<circle cx="995.8" cy="692.7" r="9.4" fill="url(#dk)"/>
<circle cx="878.2" cy="711.7" r="9.4" fill="url(#dk)"/>
<circle cx="897.8" cy="711.7" r="9.4" fill="url(#dk)"/>
<circle cx="917.4" cy="711.7" r="9.4" fill="url(#dk)"/>
<circle cx="937.0" cy="711.7" r="9.4" fill="url(#dk)"/>
<circle cx="956.6" cy="711.7" r="9.4" fill="url(#dk)"/>
<circle cx="976.2" cy="711.7" r="9.4" fill="url(#dk)"/>
<circle cx="995.8" cy="711.7" r="9.4" fill="url(#dk)"/>
<circle cx="878.2" cy="730.7" r="9.4" fill="url(#dk)"/>
<circle cx="897.8" cy="730.7" r="9.4" fill="url(#dk)"/>
<circle cx="917.4" cy="730.7" r="9.4" fill="url(#dk)"/>
<circle cx="937.0" cy="730.7" r="9.4" fill="url(#dk)"/>
<circle cx="956.6" cy="730.7" r="9.4" fill="url(#dk)"/>
<circle cx="976.2" cy="730.7" r="9.4" fill="url(#dk)"/>
<circle cx="995.8" cy="730.7" r="9.4" fill="url(#dk)"/>
<circle cx="878.2" cy="749.7" r="9.4" fill="url(#dk)"/>
<circle cx="897.8" cy="749.7" r="9.4" fill="url(#dk)"/>
<circle cx="917.4" cy="749.7" r="9.4" fill="url(#dk)"/>
<circle cx="937.0" cy="749.7" r="9.4" fill="url(#dk)"/>
<circle cx="956.6" cy="749.7" r="9.4" fill="url(#dk)"/>
<circle cx="976.2" cy="749.7" r="9.4" fill="url(#dk)"/>
<circle cx="995.8" cy="749.7" r="9.4" fill="url(#dk)"/>
<circle cx="878.2" cy="768.7" r="9.4" fill="url(#dk)"/>
<circle cx="897.8" cy="768.7" r="9.4" fill="url(#dk)"/>
<circle cx="917.4" cy="768.7" r="9.4" fill="url(#dk)"/>
<circle cx="937.0" cy="768.7" r="9.4" fill="url(#dk)"/>
<circle cx="956.6" cy="768.7" r="9.4" fill="url(#dk)"/>
<circle cx="976.2" cy="768.7" r="9.4" fill="url(#dk)"/>
<circle cx="995.8" cy="768.7" r="9.4" fill="url(#dk)"/>
<circle cx="878.2" cy="787.7" r="9.4" fill="url(#dk)"/>
<circle cx="897.8" cy="787.7" r="9.4" fill="url(#dk)"/>
<circle cx="917.4" cy="787.7" r="9.4" fill="url(#dk)"/>
<circle cx="937.0" cy="787.7" r="9.4" fill="url(#dk)"/>
<circle cx="956.6" cy="787.7" r="9.4" fill="url(#dk)"/>
<circle cx="976.2" cy="787.7" r="9.4" fill="url(#dk)"/>
<circle cx="995.8" cy="787.7" r="9.4" fill="url(#dk)"/>
<circle cx="878.2" cy="806.7" r="9.4" fill="url(#dk)"/>
<circle cx="897.8" cy="806.7" r="9.4" fill="url(#dk)"/>
<circle cx="917.4" cy="806.7" r="9.4" fill="url(#dk)"/>
<circle cx="937.0" cy="806.7" r="9.4" fill="url(#dk)"/>
<circle cx="956.6" cy="806.7" r="9.4" fill="url(#dk)"/>
<circle cx="976.2" cy="806.7" r="9.4" fill="url(#dk)"/>
<circle cx="995.8" cy="806.7" r="9.4" fill="url(#dk)"/>
</g>
<rect x="229.5" y="666" width="8" height="155" fill="#12b416" opacity="0.28" filter="url(#b2)"/>
<rect x="544" y="666" width="8" height="155" fill="#12b416" opacity="0.28" filter="url(#b2)"/>
<rect x="856" y="666" width="8" height="155" fill="#12b416" opacity="0.28" filter="url(#b2)"/>
<ellipse cx="303.4" cy="752.4" rx="10" ry="10" fill="url(#bs)" opacity="0.7"/>
<ellipse cx="465.5" cy="747.5" rx="10" ry="10" fill="url(#bs)" opacity="0.75"/>
<ellipse cx="475.5" cy="744.5" rx="10" ry="9.5" fill="url(#bs)" opacity="0.8"/>
<ellipse cx="618.4" cy="750" rx="16" ry="15.5" fill="url(#bs)" opacity="1.0"/>
<ellipse cx="614" cy="752" rx="11" ry="10" fill="url(#bs)" opacity="0.9"/>
<ellipse cx="778" cy="751" rx="19" ry="15" fill="url(#bs)" opacity="0.85"/>
<ellipse cx="768.5" cy="755" rx="12" ry="10" fill="url(#bs)" opacity="1.0"/>
<ellipse cx="784" cy="744" rx="11" ry="10" fill="url(#bs)" opacity="0.7"/>
<ellipse cx="905.9" cy="763.3" rx="8" ry="9" fill="url(#bs)" opacity="0.5"/>
<ellipse cx="947" cy="756" rx="9" ry="8" fill="url(#bs)" opacity="0.18"/>
<ellipse cx="942" cy="778" rx="9" ry="8" fill="url(#bs)" opacity="0.15"/>
</g>
<rect x="389.40000000000003" y="666" width="1.8" height="155" fill="#e6f2e6"/>
<rect x="701.5" y="666" width="1.8" height="155" fill="#e6f2e6"/>
<text x="90.7" y="697.5" font-family="'Liberation Sans', Arial, sans-serif" font-size="27" font-weight="bold" fill="#ffffff" stroke="#5a2a00" stroke-width="0.35" paint-order="stroke">Laser on</text>
<text x="868.9" y="697.3" font-family="'Liberation Sans', Arial, sans-serif" font-size="27" font-weight="bold" fill="#ffffff" stroke="#5a2a00" stroke-width="0.35" paint-order="stroke">Laser off</text>
<text x="136.0" y="806" font-family="'Liberation Sans', Arial, sans-serif" font-size="27" font-weight="bold" fill="#ffffff" stroke="#5a2a00" stroke-width="0.35" paint-order="stroke">t= 0s</text>
<text x="301.0" y="806" font-family="'Liberation Sans', Arial, sans-serif" font-size="27" font-weight="bold" fill="#ffffff" stroke="#5a2a00" stroke-width="0.35" paint-order="stroke">t= 4s</text>
<text x="449.1" y="806" font-family="'Liberation Sans', Arial, sans-serif" font-size="27" font-weight="bold" fill="#ffffff" stroke="#5a2a00" stroke-width="0.35" paint-order="stroke">t= 5s</text>
<text x="603.8" y="806" font-family="'Liberation Sans', Arial, sans-serif" font-size="27" font-weight="bold" fill="#ffffff" stroke="#5a2a00" stroke-width="0.35" paint-order="stroke">t= 11s</text>
<text x="761.1" y="806" font-family="'Liberation Sans', Arial, sans-serif" font-size="27" font-weight="bold" fill="#ffffff" stroke="#5a2a00" stroke-width="0.35" paint-order="stroke">t= 18s</text>
<text x="918.7" y="806" font-family="'Liberation Sans', Arial, sans-serif" font-size="27" font-weight="bold" fill="#ffffff" stroke="#5a2a00" stroke-width="0.35" paint-order="stroke">t= 46s</text>
</svg>
</body></html>
